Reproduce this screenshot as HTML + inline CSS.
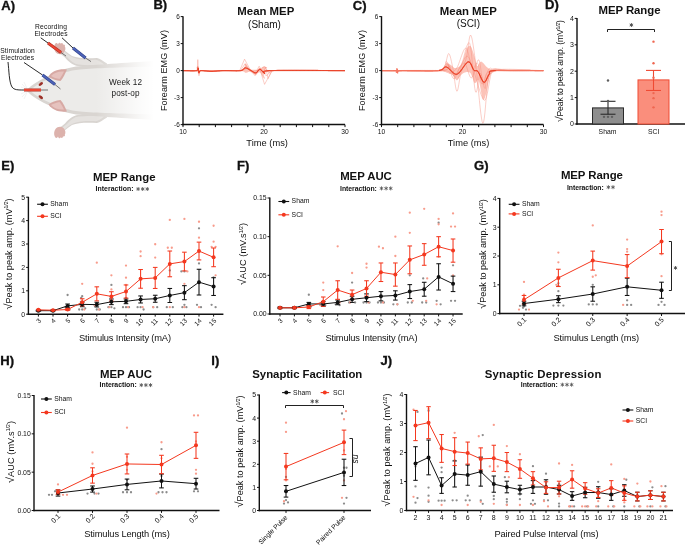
<!DOCTYPE html>
<html><head><meta charset="utf-8"><style>
html,body{margin:0;padding:0;background:#fff;width:685px;height:545px;overflow:hidden}
svg{display:block;will-change:transform}
text{font-family:"Liberation Sans",sans-serif}
</style></head><body>
<svg width="685" height="545" viewBox="0 0 685 545">
<rect width="685" height="545" fill="#fff"/>
<text transform="translate(1.2,10.1) scale(1.1,1)" font-size="11.9" font-weight="bold" fill="#111" stroke="#111" stroke-width="0.3">A)</text>
<text transform="translate(153.4,9.4) scale(1.1,1)" font-size="11.9" font-weight="bold" fill="#111" stroke="#111" stroke-width="0.3">B)</text>
<text transform="translate(352.8,9.5) scale(1.1,1)" font-size="11.9" font-weight="bold" fill="#111" stroke="#111" stroke-width="0.3">C)</text>
<text transform="translate(545,9.3) scale(1.1,1)" font-size="11.9" font-weight="bold" fill="#111" stroke="#111" stroke-width="0.3">D)</text>
<text transform="translate(1.2,169.5) scale(1.1,1)" font-size="11.9" font-weight="bold" fill="#111" stroke="#111" stroke-width="0.3">E)</text>
<text transform="translate(237,169.5) scale(1.1,1)" font-size="11.9" font-weight="bold" fill="#111" stroke="#111" stroke-width="0.3">F)</text>
<text transform="translate(474,170) scale(1.1,1)" font-size="11.9" font-weight="bold" fill="#111" stroke="#111" stroke-width="0.3">G)</text>
<text transform="translate(0.2,365) scale(1.1,1)" font-size="11.9" font-weight="bold" fill="#111" stroke="#111" stroke-width="0.3">H)</text>
<text transform="translate(211.3,365) scale(1.1,1)" font-size="11.9" font-weight="bold" fill="#111" stroke="#111" stroke-width="0.3">I)</text>
<text transform="translate(380.5,365) scale(1.1,1)" font-size="11.9" font-weight="bold" fill="#111" stroke="#111" stroke-width="0.3">J)</text>
<defs>
<linearGradient id="fadew" x1="0" y1="0" x2="1" y2="0"><stop offset="0" stop-color="#fff" stop-opacity="0"/><stop offset="0.75" stop-color="#fff" stop-opacity="0.8"/><stop offset="1" stop-color="#fff" stop-opacity="1"/></linearGradient>
</defs>
<path d="M60,45.5 C63,49 67,53 72,56 C78,58.5 88,58.5 97,58 C100,58.5 103,61 107,63.5 L107,67.5 C96,67 86,66.5 78,66 C73,65.5 69,62 65,57.5 C62,55 58,52 55,49 Z" fill="#d8d4d0"/>
<path d="M61,48 C64,51.5 68,55 73,57.5 C79,60 88,60 96,59.8 C99,60.5 101,62 104,64.5 L104,66 C95,65.5 86,65 78.5,64.5 C74,64 70.5,61 67,57 C64,54.5 60.5,52 58,50 Z" fill="#e5e2df"/>
<path d="M60,135.5 C63,132 67,128 72,125 C78,122.5 88,122.5 97,123 C100,122.5 103,120 107,117.5 L107,113.5 C96,114 86,114.5 78,115 C73,115.5 69,119 65,123.5 C62,126 58,129 55,132 Z" fill="#d8d4d0"/>
<path d="M61,133 C64,129.5 68,126 73,123.5 C79,121 88,121 96,121.2 C99,120.5 101,119 104,116.5 L104,115 C95,115.5 86,116 78.5,116.5 C74,117 70.5,120 67,124 C64,126.5 60.5,129 58,131 Z" fill="#e5e2df"/>
<path d="M55,44 C56,42.5 57.5,43 58,44.5 C58.5,42.5 60,42 60.8,43.8 C61.5,42.5 63,43 63,44.8 C64,44 65.5,45 64.8,46.5 C66,48 65.5,51 63.5,53 C61,55 57.5,54.5 55.5,52 C54,50 53.5,46.5 55,44 Z" fill="#dcb2ac"/>
<path d="M55,137 C56,138.5 57.5,138 58,136.5 C58.5,138.5 60,139 60.8,137.2 C61.5,138.5 63,138 63,136.2 C64,137 65.5,136 64.8,134.5 C66,133 65.5,130 63.5,128 C61,126 57.5,126.5 55.5,129 C54,131 53.5,134.5 55,137 Z" fill="#dcb2ac"/>
<path d="M26.5,90.5 C31,85 41,79 51,75 C59,71 66,68 76,66.5 C92,65 115,63.5 153,61 L153,120 C115,117.5 92,116 76,114.5 C66,113 59,110 51,106 C41,102 31,96 26.5,90.5 Z" fill="#d9d5d1"/>
<path d="M30,90.5 C35,85.5 44,80.5 53,77 C61,73.5 69,70.5 80,69.5 C96,68 118,67.5 153,66.5 L153,114.5 C118,113.5 96,113 80,111.5 C69,110.5 61,107.5 53,104 C44,100.5 35,95.5 30,90.5 Z" fill="#ecebe9"/>
<rect x="96" y="55" width="58" height="72" fill="url(#fadew)"/>
<path d="M48.5,76.5 C52,71 59,68.5 67,69.5 C65,74 63,78.5 60.5,81 C56,80.5 51.5,79 48.5,76.5 Z" fill="#d7a9a4"/>
<path d="M51,76 C54,72.5 59,71 64,71.5 C62.5,74.5 61,77.5 59.5,79 C56.5,78.5 53.5,77.5 51,76 Z" fill="#e6c2be"/>
<path d="M48.5,104.5 C52,110 59,112.5 67,111.5 C65,107 63,102.5 60.5,100 C56,100.5 51.5,102 48.5,104.5 Z" fill="#d7a9a4"/>
<path d="M51,105 C54,108.5 59,110 64,109.5 C62.5,106.5 61,103.5 59.5,102 C56.5,102.5 53.5,103.5 51,105 Z" fill="#e6c2be"/>
<ellipse cx="40.8" cy="84" rx="2.6" ry="1.4" fill="#9c3128" transform="rotate(-38 40.8 84)"/>
<ellipse cx="40.8" cy="97.2" rx="2.6" ry="1.4" fill="#9c3128" transform="rotate(38 40.8 97.2)"/>
<line x1="28.00" y1="90.50" x2="22.00" y2="84.00" stroke="#d8d8d8" stroke-width="0.35" />
<line x1="28.00" y1="90.50" x2="21.00" y2="87.00" stroke="#d8d8d8" stroke-width="0.35" />
<line x1="28.00" y1="90.50" x2="21.00" y2="94.00" stroke="#d8d8d8" stroke-width="0.35" />
<line x1="28.00" y1="90.50" x2="22.00" y2="97.00" stroke="#d8d8d8" stroke-width="0.35" />
<line x1="28.00" y1="90.50" x2="24.00" y2="82.00" stroke="#d8d8d8" stroke-width="0.35" />
<line x1="28.00" y1="90.50" x2="24.00" y2="99.00" stroke="#d8d8d8" stroke-width="0.35" />
<path d="M8,62 C9,70 9,82 12,87 C14,90 18,90 24,90" fill="none" stroke="#111" stroke-width="0.9"/>
<line x1="24.00" y1="62.50" x2="42.50" y2="75.00" stroke="#111" stroke-width="0.9" />
<line x1="40.70" y1="37.80" x2="48.00" y2="43.00" stroke="#111" stroke-width="0.9" />
<line x1="62.00" y1="37.80" x2="73.00" y2="48.00" stroke="#111" stroke-width="0.9" />
<line x1="24.00" y1="90.00" x2="41.00" y2="90.00" stroke="#b02a1c" stroke-width="3.0" />
<line x1="24.00" y1="90.00" x2="41.00" y2="90.00" stroke="#ec4634" stroke-width="2.0" />
<line x1="41.00" y1="90.00" x2="48.00" y2="90.00" stroke="#444" stroke-width="0.7" />
<line x1="42.50" y1="75.00" x2="55.00" y2="84.50" stroke="#2d3f86" stroke-width="3.0" />
<line x1="42.50" y1="75.00" x2="55.00" y2="84.50" stroke="#4d63b8" stroke-width="2.0" />
<line x1="55.00" y1="84.50" x2="60.50" y2="89.00" stroke="#444" stroke-width="0.7" />
<line x1="48.00" y1="43.00" x2="61.00" y2="52.50" stroke="#b02a1c" stroke-width="3.0" />
<line x1="48.00" y1="43.00" x2="61.00" y2="52.50" stroke="#ec4634" stroke-width="2.0" />
<line x1="61.00" y1="52.50" x2="66.00" y2="56.00" stroke="#444" stroke-width="0.7" />
<line x1="73.00" y1="48.00" x2="85.60" y2="58.00" stroke="#2d3f86" stroke-width="3.0" />
<line x1="73.00" y1="48.00" x2="85.60" y2="58.00" stroke="#4d63b8" stroke-width="2.0" />
<line x1="85.60" y1="58.00" x2="91.00" y2="61.60" stroke="#444" stroke-width="0.7" />
<text x="51.00" y="29.00" font-size="6.7" text-anchor="middle" fill="#111" textLength="32" lengthAdjust="spacing" >Recording</text>
<text x="51.00" y="36.00" font-size="6.7" text-anchor="middle" fill="#111" textLength="33" lengthAdjust="spacing" >Electrodes</text>
<text x="17.50" y="52.50" font-size="6.7" text-anchor="middle" fill="#111" textLength="34.5" lengthAdjust="spacing" >Stimulation</text>
<text x="17.50" y="60.00" font-size="6.7" text-anchor="middle" fill="#111" textLength="33" lengthAdjust="spacing" >Electrodes</text>
<text x="125.50" y="85.00" font-size="8.2" text-anchor="middle" fill="#1a1a1a" textLength="33" lengthAdjust="spacing" >Week 12</text>
<text x="125.50" y="96.00" font-size="8.2" text-anchor="middle" fill="#1a1a1a" textLength="28" lengthAdjust="spacing" >post-op</text>
<path d="M183.00,70.15 L183.51,70.16 L184.15,70.18 L184.91,70.21 L185.77,70.24 L186.71,70.29 L187.71,70.33 L188.75,70.37 L189.81,70.40 L190.87,70.43 L191.92,70.45 L192.93,70.45 L193.89,70.43 L194.77,70.40 L195.56,70.34 L196.23,70.26 L196.77,70.15 L198.14,67.87 L197.98,66.10 L196.36,67.87 L199.61,70.15 L200.05,70.19 L200.55,70.23 L201.08,70.27 L201.66,70.31 L202.27,70.35 L202.93,70.39 L203.61,70.42 L204.34,70.46 L205.09,70.49 L205.87,70.52 L206.68,70.56 L207.52,70.59 L208.38,70.61 L209.26,70.64 L210.16,70.67 L211.08,70.69 L212.02,70.71 L212.97,70.74 L213.94,70.76 L214.92,70.77 L215.90,70.79 L216.90,70.80 L217.90,70.81 L218.90,70.82 L219.90,70.83 L220.91,70.83 L221.91,70.84 L222.91,70.83 L223.90,70.83 L224.88,70.83 L225.86,70.82 L226.82,70.81 L227.78,70.80 L228.71,70.78 L229.63,70.76 L230.53,70.74 L231.41,70.71 L232.27,70.68 L233.10,70.65 L233.91,70.62 L234.69,70.58 L235.44,70.54 L236.16,70.49 L236.85,70.45 L237.49,70.39 L238.11,70.34 L238.68,70.28 L239.21,70.22 L239.70,70.15 L242.65,69.27 L244.17,67.93 L244.74,66.41 L244.81,64.97 L244.87,63.87 L245.37,63.40 L246.17,63.71 L246.87,64.63 L247.55,65.90 L248.28,67.27 L249.15,68.47 L250.23,69.25 L250.96,69.48 L251.79,69.64 L252.71,69.74 L253.68,69.79 L254.68,69.80 L255.70,69.76 L256.69,69.69 L257.64,69.60 L258.51,69.49 L259.29,69.37 L259.95,69.25 L261.48,68.42 L262.29,67.28 L263.19,66.55 L263.95,66.47 L264.75,66.56 L265.58,66.79 L266.42,67.10 L267.24,67.45 L266.94,67.92 L265.52,68.53 L264.65,69.18 L266.02,69.75 L271.29,70.15 L271.73,70.16 L272.20,70.18 L272.68,70.19 L273.20,70.20 L273.74,70.22 L274.30,70.23 L274.88,70.24 L275.48,70.25 L276.11,70.26 L276.75,70.27 L277.42,70.28 L278.10,70.28 L278.81,70.29 L279.53,70.30 L280.27,70.31 L281.03,70.31 L281.80,70.32 L282.59,70.32 L283.40,70.33 L284.22,70.33 L285.05,70.33 L285.90,70.34 L286.76,70.34 L287.64,70.34 L288.52,70.35 L289.42,70.35 L290.33,70.35 L291.25,70.35 L292.18,70.35 L293.12,70.35 L294.06,70.35 L295.02,70.35 L295.98,70.35 L296.95,70.35 L297.92,70.35 L298.90,70.35 L299.89,70.34 L300.88,70.34 L301.87,70.34 L302.87,70.34 L303.87,70.33 L304.88,70.33 L305.88,70.33 L306.89,70.32 L307.89,70.32 L308.90,70.32 L309.91,70.31 L310.91,70.31 L311.92,70.30 L312.92,70.30 L313.92,70.30 L314.91,70.29 L315.90,70.29 L316.89,70.28 L317.87,70.28 L318.85,70.27 L319.82,70.27 L320.78,70.26 L321.74,70.26 L322.68,70.25 L323.62,70.25 L324.55,70.24 L325.47,70.24 L326.38,70.23 L327.28,70.23 L328.17,70.22 L329.05,70.22 L329.91,70.21 L330.76,70.21 L331.60,70.21 L332.42,70.20 L333.23,70.20 L334.02,70.19 L334.79,70.19 L335.55,70.18 L336.30,70.18 L337.02,70.18 L337.73,70.17 L338.42,70.17 L339.09,70.17 L339.73,70.16 L340.36,70.16 L340.97,70.16 L341.56,70.16 L342.12,70.16 L342.66,70.15 L343.18,70.15 L343.67,70.15 L344.14,70.15 L344.58,70.15 L345.00,70.15 L345.00,71.05 L344.58,71.05 L344.14,71.05 L343.67,71.05 L343.18,71.04 L342.66,71.04 L342.12,71.03 L341.56,71.03 L340.98,71.02 L340.37,71.02 L339.75,71.01 L339.10,71.00 L338.44,70.99 L337.75,70.98 L337.05,70.97 L336.32,70.96 L335.59,70.95 L334.83,70.94 L334.06,70.93 L333.27,70.92 L332.46,70.91 L331.65,70.89 L330.81,70.88 L329.97,70.87 L329.11,70.85 L328.24,70.84 L327.35,70.83 L326.46,70.81 L325.55,70.80 L324.64,70.79 L323.71,70.77 L322.78,70.76 L321.83,70.74 L320.88,70.73 L319.92,70.72 L318.96,70.70 L317.99,70.69 L317.01,70.67 L316.03,70.66 L315.04,70.65 L314.05,70.64 L313.05,70.62 L312.06,70.61 L311.06,70.60 L310.05,70.59 L309.05,70.58 L308.05,70.57 L307.04,70.56 L306.04,70.55 L305.04,70.54 L304.04,70.53 L303.04,70.52 L302.04,70.51 L301.05,70.51 L300.06,70.50 L299.08,70.50 L298.10,70.49 L297.12,70.49 L296.16,70.49 L295.20,70.48 L294.24,70.48 L293.30,70.48 L292.36,70.48 L291.43,70.49 L290.51,70.49 L289.60,70.49 L288.70,70.50 L287.81,70.50 L286.94,70.51 L286.07,70.52 L285.22,70.53 L284.38,70.54 L283.56,70.55 L282.75,70.56 L281.95,70.58 L281.17,70.59 L280.41,70.61 L279.67,70.63 L278.94,70.65 L278.23,70.67 L277.53,70.69 L276.86,70.72 L276.21,70.74 L275.57,70.77 L274.96,70.80 L274.37,70.83 L273.80,70.86 L273.25,70.90 L272.72,70.93 L272.22,70.97 L271.74,71.01 L271.29,71.05 L266.82,71.86 L264.49,73.08 L263.72,74.53 L263.95,76.00 L264.58,77.31 L265.06,78.27 L264.81,78.70 L263.91,78.36 L263.07,77.32 L262.28,75.89 L261.51,74.38 L260.74,73.12 L259.95,72.40 L259.13,72.34 L258.30,72.72 L257.47,73.33 L256.65,73.98 L255.85,74.49 L255.09,74.65 L254.25,74.29 L253.49,73.56 L252.74,72.70 L251.94,71.93 L251.04,71.50 L250.19,71.50 L249.27,71.73 L248.31,72.09 L247.32,72.47 L246.33,72.76 L245.37,72.85 L244.82,72.71 L244.74,72.42 L244.66,72.03 L244.11,71.63 L242.61,71.28 L239.70,71.05 L239.22,71.03 L238.69,71.01 L238.12,71.00 L237.51,70.98 L236.87,70.96 L236.19,70.95 L235.48,70.93 L234.73,70.92 L233.96,70.90 L233.16,70.89 L232.33,70.88 L231.48,70.86 L230.61,70.85 L229.71,70.84 L228.80,70.83 L227.87,70.82 L226.93,70.81 L225.97,70.80 L225.00,70.79 L224.03,70.79 L223.04,70.78 L222.05,70.78 L221.06,70.77 L220.06,70.77 L219.07,70.77 L218.08,70.77 L217.09,70.77 L216.10,70.77 L215.13,70.77 L214.16,70.77 L213.20,70.77 L212.26,70.78 L211.33,70.79 L210.42,70.79 L209.53,70.80 L208.65,70.81 L207.80,70.82 L206.98,70.83 L206.18,70.85 L205.40,70.86 L204.66,70.88 L203.95,70.89 L203.27,70.91 L202.63,70.93 L202.02,70.95 L201.46,70.97 L200.93,71.00 L200.45,71.02 L200.01,71.05 L197.14,72.57 L198.96,73.75 L198.66,72.57 L196.77,71.05 L196.20,70.98 L195.51,70.92 L194.71,70.88 L193.82,70.86 L192.86,70.85 L191.85,70.85 L190.81,70.86 L189.75,70.88 L188.69,70.90 L187.66,70.93 L186.68,70.96 L185.75,70.99 L184.90,71.01 L184.14,71.03 L183.50,71.05 L183.00,71.05Z" fill="#fcc3b8" stroke="none"/>
<polyline points="183.00,70.60 197.18,70.60 197.82,59.62 198.39,70.60 198.96,75.73 199.85,70.60 211.35,71.50 223.50,70.60 239.70,70.60 244.56,59.17 250.72,70.60 255.09,75.73 259.46,67.90 264.57,84.37 272.10,70.60 345.00,70.60" fill="none" stroke="#f58a78" stroke-width="0.42" stroke-linejoin="round" />
<polyline points="183.00,70.60 197.18,70.60 197.82,66.10 198.55,70.60 199.04,73.75 200.01,70.60 240.51,70.60 244.96,63.85 250.23,71.50 255.09,73.75 259.14,66.19 263.19,72.40 265.62,67.45 268.05,78.70 272.10,70.60 345.00,70.60" fill="none" stroke="#f58a78" stroke-width="0.42" stroke-linejoin="round" />
<polyline points="183.00,70.60 197.42,70.60 198.07,67.90 199.20,72.85 200.41,70.60 241.32,70.60 246.18,66.55 251.85,70.60 255.90,74.65 259.95,68.80 264.81,66.73 268.86,73.30 272.10,70.60 345.00,70.60" fill="none" stroke="#f58a78" stroke-width="0.42" stroke-linejoin="round" />
<polyline points="183.00,70.60 242.13,70.60 246.99,68.35 252.66,71.50 260.76,69.70 266.43,76.00 271.29,70.60 345.00,70.60" fill="none" stroke="#f58a78" stroke-width="0.42" stroke-linejoin="round" />
<polyline points="183.00,70.60 183.38,70.60 183.85,70.61 184.40,70.62 185.01,70.64 185.68,70.66 186.41,70.68 187.17,70.70 187.97,70.72 188.78,70.74 189.62,70.76 190.46,70.78 191.29,70.79 192.11,70.80 192.91,70.80 193.69,70.80 194.42,70.79 195.10,70.77 195.73,70.74 196.29,70.71 196.77,70.66 197.18,70.60 198.41,68.94 197.98,67.90 198.43,70.35 198.96,72.85 199.06,71.99 200.41,70.60 200.84,70.57 201.32,70.56 201.86,70.57 202.45,70.60 203.09,70.65 203.77,70.72 204.48,70.79 205.21,70.86 205.97,70.94 206.74,71.02 207.52,71.10 208.31,71.17 209.09,71.23 209.86,71.28 210.62,71.31 211.35,71.32 211.99,71.31 212.62,71.30 213.25,71.27 213.88,71.24 214.50,71.20 215.13,71.16 215.76,71.11 216.40,71.06 217.05,71.00 217.70,70.95 218.37,70.89 219.04,70.84 219.74,70.79 220.45,70.74 221.18,70.69 221.93,70.66 222.70,70.62 223.50,70.60 224.08,70.59 224.68,70.58 225.31,70.58 225.97,70.59 226.65,70.60 227.34,70.61 228.05,70.62 228.77,70.64 229.50,70.65 230.24,70.67 230.98,70.69 231.72,70.71 232.46,70.72 233.19,70.74 233.92,70.75 234.63,70.76 235.33,70.77 236.01,70.78 236.68,70.78 237.31,70.77 237.93,70.76 238.51,70.74 239.07,70.72 239.59,70.69 240.07,70.65 240.51,70.60 241.83,70.31 242.76,69.87 243.40,69.35 243.87,68.82 244.28,68.36 244.74,68.03 245.37,67.90 246.05,67.98 246.75,68.21 247.47,68.54 248.20,68.94 248.94,69.38 249.66,69.83 250.36,70.25 251.04,70.60 251.78,71.00 252.51,71.45 253.22,71.90 253.92,72.32 254.59,72.65 255.26,72.84 255.90,72.85 256.61,72.50 257.28,71.80 257.92,70.94 258.57,70.10 259.24,69.47 259.95,69.25 260.59,69.49 261.26,70.05 261.93,70.80 262.63,71.64 263.34,72.41 264.07,73.01 264.81,73.30 265.01,73.27 264.56,73.04 263.85,72.66 263.29,72.20 263.28,71.71 264.20,71.24 266.47,70.85 270.48,70.60 270.84,70.59 271.22,70.58 271.61,70.57 272.01,70.56 272.44,70.55 272.87,70.54 273.33,70.53 273.79,70.52 274.27,70.51 274.77,70.50 275.27,70.49 275.79,70.49 276.33,70.48 276.87,70.47 277.43,70.47 278.00,70.46 278.58,70.45 279.17,70.45 279.78,70.44 280.39,70.44 281.02,70.43 281.65,70.43 282.30,70.43 282.96,70.42 283.62,70.42 284.29,70.42 284.98,70.41 285.67,70.41 286.37,70.41 287.07,70.41 287.79,70.41 288.51,70.40 289.24,70.40 289.97,70.40 290.72,70.40 291.47,70.40 292.22,70.40 292.98,70.40 293.75,70.40 294.52,70.40 295.29,70.40 296.07,70.40 296.85,70.40 297.64,70.40 298.43,70.40 299.23,70.41 300.02,70.41 300.82,70.41 301.63,70.41 302.43,70.41 303.24,70.42 304.04,70.42 304.85,70.42 305.66,70.42 306.47,70.43 307.28,70.43 308.09,70.43 308.91,70.43 309.72,70.44 310.52,70.44 311.33,70.44 312.14,70.45 312.95,70.45 313.75,70.45 314.55,70.46 315.35,70.46 316.14,70.47 316.94,70.47 317.73,70.47 318.51,70.48 319.29,70.48 320.07,70.48 320.84,70.49 321.61,70.49 322.37,70.50 323.13,70.50 323.88,70.50 324.63,70.51 325.37,70.51 326.10,70.52 326.82,70.52 327.54,70.52 328.25,70.53 328.96,70.53 329.65,70.53 330.34,70.54 331.02,70.54 331.69,70.55 332.35,70.55 333.00,70.55 333.64,70.56 334.27,70.56 334.89,70.56 335.50,70.57 336.10,70.57 336.68,70.57 337.26,70.57 337.82,70.58 338.37,70.58 338.91,70.58 339.44,70.58 339.95,70.59 340.45,70.59 340.94,70.59 341.41,70.59 341.87,70.59 342.32,70.60 342.75,70.60 343.16,70.60 343.56,70.60 343.95,70.60 344.31,70.60 344.66,70.60 345.00,70.60" fill="none" stroke="#f5735e" stroke-width="1.2" stroke-linejoin="round" />
<polyline points="183.00,70.60 183.38,70.60 183.85,70.61 184.40,70.62 185.01,70.64 185.68,70.66 186.41,70.68 187.17,70.70 187.97,70.72 188.78,70.74 189.62,70.76 190.46,70.78 191.29,70.79 192.11,70.80 192.91,70.80 193.69,70.80 194.42,70.79 195.10,70.77 195.73,70.74 196.29,70.71 196.77,70.66 197.18,70.60 198.41,68.94 197.98,67.90 198.43,70.35 198.96,72.85 199.06,71.99 200.41,70.60 200.84,70.57 201.32,70.56 201.86,70.57 202.45,70.60 203.09,70.65 203.77,70.72 204.48,70.79 205.21,70.86 205.97,70.94 206.74,71.02 207.52,71.10 208.31,71.17 209.09,71.23 209.86,71.28 210.62,71.31 211.35,71.32 211.99,71.31 212.62,71.30 213.25,71.27 213.88,71.24 214.50,71.20 215.13,71.16 215.76,71.11 216.40,71.06 217.05,71.00 217.70,70.95 218.37,70.89 219.04,70.84 219.74,70.79 220.45,70.74 221.18,70.69 221.93,70.66 222.70,70.62 223.50,70.60 224.08,70.59 224.68,70.58 225.31,70.58 225.97,70.59 226.65,70.60 227.34,70.61 228.05,70.62 228.77,70.64 229.50,70.65 230.24,70.67 230.98,70.69 231.72,70.71 232.46,70.72 233.19,70.74 233.92,70.75 234.63,70.76 235.33,70.77 236.01,70.78 236.68,70.78 237.31,70.77 237.93,70.76 238.51,70.74 239.07,70.72 239.59,70.69 240.07,70.65 240.51,70.60 241.83,70.31 242.76,69.87 243.40,69.35 243.87,68.82 244.28,68.36 244.74,68.03 245.37,67.90 246.05,67.98 246.75,68.21 247.47,68.54 248.20,68.94 248.94,69.38 249.66,69.83 250.36,70.25 251.04,70.60 251.78,71.00 252.51,71.45 253.22,71.90 253.92,72.32 254.59,72.65 255.26,72.84 255.90,72.85 256.61,72.50 257.28,71.80 257.92,70.94 258.57,70.10 259.24,69.47 259.95,69.25 260.59,69.49 261.26,70.05 261.93,70.80 262.63,71.64 263.34,72.41 264.07,73.01 264.81,73.30 265.01,73.27 264.56,73.04 263.85,72.66 263.29,72.20 263.28,71.71 264.20,71.24 266.47,70.85 270.48,70.60 270.84,70.59 271.22,70.58 271.61,70.57 272.01,70.56 272.44,70.55 272.87,70.54 273.33,70.53 273.79,70.52 274.27,70.51 274.77,70.50 275.27,70.49 275.79,70.49 276.33,70.48 276.87,70.47 277.43,70.47 278.00,70.46 278.58,70.45 279.17,70.45 279.78,70.44 280.39,70.44 281.02,70.43 281.65,70.43 282.30,70.43 282.96,70.42 283.62,70.42 284.29,70.42 284.98,70.41 285.67,70.41 286.37,70.41 287.07,70.41 287.79,70.41 288.51,70.40 289.24,70.40 289.97,70.40 290.72,70.40 291.47,70.40 292.22,70.40 292.98,70.40 293.75,70.40 294.52,70.40 295.29,70.40 296.07,70.40 296.85,70.40 297.64,70.40 298.43,70.40 299.23,70.41 300.02,70.41 300.82,70.41 301.63,70.41 302.43,70.41 303.24,70.42 304.04,70.42 304.85,70.42 305.66,70.42 306.47,70.43 307.28,70.43 308.09,70.43 308.91,70.43 309.72,70.44 310.52,70.44 311.33,70.44 312.14,70.45 312.95,70.45 313.75,70.45 314.55,70.46 315.35,70.46 316.14,70.47 316.94,70.47 317.73,70.47 318.51,70.48 319.29,70.48 320.07,70.48 320.84,70.49 321.61,70.49 322.37,70.50 323.13,70.50 323.88,70.50 324.63,70.51 325.37,70.51 326.10,70.52 326.82,70.52 327.54,70.52 328.25,70.53 328.96,70.53 329.65,70.53 330.34,70.54 331.02,70.54 331.69,70.55 332.35,70.55 333.00,70.55 333.64,70.56 334.27,70.56 334.89,70.56 335.50,70.57 336.10,70.57 336.68,70.57 337.26,70.57 337.82,70.58 338.37,70.58 338.91,70.58 339.44,70.58 339.95,70.59 340.45,70.59 340.94,70.59 341.41,70.59 341.87,70.59 342.32,70.60 342.75,70.60 343.16,70.60 343.56,70.60 343.95,70.60 344.31,70.60 344.66,70.60 345.00,70.60" fill="none" stroke="#e63419" stroke-width="0.95" stroke-linejoin="round" />
<line x1="183.00" y1="16.20" x2="183.00" y2="125.30" stroke="#111111" stroke-width="1.4" />
<line x1="180.70" y1="16.60" x2="183.00" y2="16.60" stroke="#111111" stroke-width="1" />
<text x="179.80" y="19.00" font-size="6.4" text-anchor="end" fill="#111111" >6</text>
<line x1="180.70" y1="43.60" x2="183.00" y2="43.60" stroke="#111111" stroke-width="1" />
<text x="179.80" y="46.00" font-size="6.4" text-anchor="end" fill="#111111" >3</text>
<line x1="180.70" y1="70.60" x2="183.00" y2="70.60" stroke="#111111" stroke-width="1" />
<text x="179.80" y="73.00" font-size="6.4" text-anchor="end" fill="#111111" >0</text>
<line x1="180.70" y1="97.60" x2="183.00" y2="97.60" stroke="#111111" stroke-width="1" />
<text x="179.80" y="100.00" font-size="6.4" text-anchor="end" fill="#111111" >-3</text>
<line x1="180.70" y1="124.60" x2="183.00" y2="124.60" stroke="#111111" stroke-width="1" />
<text x="179.80" y="127.00" font-size="6.4" text-anchor="end" fill="#111111" >-6</text>
<line x1="182.30" y1="124.60" x2="345.00" y2="124.60" stroke="#111111" stroke-width="1.5" />
<line x1="183.00" y1="124.60" x2="183.00" y2="127.10" stroke="#111111" stroke-width="1" />
<line x1="199.20" y1="124.60" x2="199.20" y2="127.10" stroke="#111111" stroke-width="1" />
<line x1="215.40" y1="124.60" x2="215.40" y2="127.10" stroke="#111111" stroke-width="1" />
<line x1="231.60" y1="124.60" x2="231.60" y2="127.10" stroke="#111111" stroke-width="1" />
<line x1="247.80" y1="124.60" x2="247.80" y2="127.10" stroke="#111111" stroke-width="1" />
<line x1="264.00" y1="124.60" x2="264.00" y2="127.10" stroke="#111111" stroke-width="1" />
<line x1="280.20" y1="124.60" x2="280.20" y2="127.10" stroke="#111111" stroke-width="1" />
<line x1="296.40" y1="124.60" x2="296.40" y2="127.10" stroke="#111111" stroke-width="1" />
<line x1="312.60" y1="124.60" x2="312.60" y2="127.10" stroke="#111111" stroke-width="1" />
<line x1="328.80" y1="124.60" x2="328.80" y2="127.10" stroke="#111111" stroke-width="1" />
<line x1="345.00" y1="124.60" x2="345.00" y2="127.10" stroke="#111111" stroke-width="1" />
<text x="183.00" y="134.10" font-size="6.7" text-anchor="middle" fill="#111111" >10</text>
<text x="264.00" y="134.10" font-size="6.7" text-anchor="middle" fill="#111111" >20</text>
<text x="345.00" y="134.10" font-size="6.7" text-anchor="middle" fill="#111111" >30</text>
<text x="166.70" y="70.60" font-size="9" text-anchor="middle" fill="#111111" textLength="81" lengthAdjust="spacing" transform="rotate(-90 166.70 70.60)" >Forearm EMG (mV)</text>
<text x="267.10" y="146.30" font-size="9.3" text-anchor="middle" fill="#111111" textLength="41.6" lengthAdjust="spacing" >Time (ms)</text>
<text x="265.80" y="14.60" font-size="11.4" text-anchor="middle" fill="#111111" font-weight="bold" textLength="57" lengthAdjust="spacing" >Mean MEP</text>
<text x="264.50" y="27.90" font-size="10" text-anchor="middle" fill="#111111" >(Sham)</text>
<path d="M381.50,69.88 L381.93,69.88 L382.39,69.88 L382.89,69.88 L383.41,69.88 L383.97,69.88 L384.56,69.88 L385.18,69.89 L385.83,69.89 L386.50,69.89 L387.20,69.89 L387.92,69.89 L388.67,69.89 L389.44,69.90 L390.24,69.90 L391.05,69.90 L391.89,69.90 L392.74,69.91 L393.61,69.91 L394.50,69.91 L395.40,69.91 L396.32,69.92 L397.25,69.92 L398.20,69.92 L399.15,69.92 L400.12,69.93 L401.10,69.93 L402.08,69.93 L403.08,69.93 L404.08,69.94 L405.08,69.94 L406.09,69.94 L407.11,69.94 L408.12,69.95 L409.14,69.95 L410.16,69.95 L411.18,69.95 L412.19,69.95 L413.21,69.95 L414.22,69.96 L415.22,69.96 L416.22,69.96 L417.22,69.96 L418.20,69.96 L419.18,69.96 L420.15,69.96 L421.11,69.96 L422.05,69.96 L422.98,69.96 L423.90,69.96 L424.81,69.96 L425.70,69.96 L426.57,69.95 L427.42,69.95 L428.26,69.95 L429.07,69.95 L429.86,69.94 L430.64,69.94 L431.39,69.94 L432.11,69.93 L432.81,69.93 L433.48,69.92 L434.13,69.92 L434.75,69.91 L435.34,69.91 L435.90,69.90 L436.43,69.89 L436.93,69.89 L437.39,69.88 L441.16,69.81 L442.82,69.76 L443.06,69.68 L442.58,69.52 L442.08,69.24 L442.25,68.80 L443.10,67.88 L443.89,66.61 L444.66,65.25 L445.45,64.09 L446.30,63.40 L447.08,63.27 L447.92,63.43 L448.78,63.79 L449.63,64.27 L450.43,64.76 L451.16,65.20 L452.33,66.17 L453.32,67.23 L454.40,67.90 L455.16,68.01 L455.96,67.97 L456.79,67.79 L457.63,67.47 L458.45,67.00 L459.26,66.47 L460.07,65.89 L460.88,65.12 L461.69,64.03 L462.50,62.50 L463.31,60.20 L464.12,57.23 L464.93,54.05 L465.74,51.15 L466.55,49.00 L467.36,47.55 L468.17,46.49 L468.98,45.89 L469.79,45.80 L470.60,46.30 L471.44,47.62 L472.30,49.73 L473.15,52.26 L473.94,54.84 L474.65,57.10 L475.52,60.73 L476.21,64.17 L477.08,66.10 L477.76,65.91 L478.51,64.80 L479.32,63.34 L480.19,62.08 L481.13,61.60 L481.99,61.96 L482.93,62.77 L483.91,63.85 L484.91,65.03 L485.88,66.14 L486.80,67.00 L487.66,67.64 L488.48,68.19 L489.28,68.68 L490.07,69.09 L490.86,69.43 L491.66,69.70 L491.96,69.90 L491.58,69.96 L491.54,69.94 L492.85,69.90 L496.52,69.88 L496.99,69.88 L497.49,69.88 L498.03,69.88 L498.61,69.89 L499.21,69.89 L499.85,69.89 L500.53,69.89 L501.23,69.89 L501.96,69.89 L502.71,69.89 L503.49,69.89 L504.30,69.89 L505.12,69.89 L505.97,69.89 L506.84,69.89 L507.73,69.89 L508.63,69.89 L509.55,69.89 L510.49,69.89 L511.43,69.89 L512.39,69.89 L513.36,69.89 L514.34,69.89 L515.32,69.89 L516.31,69.89 L517.31,69.89 L518.31,69.89 L519.31,69.89 L520.31,69.89 L521.32,69.89 L522.31,69.89 L523.31,69.89 L524.30,69.89 L525.29,69.89 L526.26,69.89 L527.23,69.89 L528.19,69.89 L529.14,69.89 L530.07,69.89 L530.99,69.89 L531.89,69.89 L532.78,69.88 L533.64,69.88 L534.49,69.88 L535.32,69.88 L536.12,69.88 L536.90,69.88 L537.66,69.88 L538.38,69.88 L539.08,69.88 L539.75,69.88 L540.39,69.88 L541.00,69.88 L541.57,69.88 L542.11,69.88 L542.61,69.88 L543.08,69.88 L543.50,69.88 L543.50,71.32 L543.07,71.32 L542.59,71.32 L542.07,71.32 L541.52,71.32 L540.93,71.32 L540.30,71.32 L539.64,71.32 L538.94,71.32 L538.22,71.32 L537.46,71.32 L536.68,71.32 L535.87,71.32 L535.04,71.32 L534.18,71.32 L533.30,71.32 L532.40,71.31 L531.48,71.31 L530.54,71.31 L529.59,71.31 L528.62,71.31 L527.65,71.31 L526.66,71.31 L525.66,71.31 L524.65,71.31 L523.63,71.31 L522.61,71.31 L521.59,71.31 L520.57,71.31 L519.54,71.31 L518.52,71.31 L517.50,71.31 L516.48,71.31 L515.47,71.31 L514.46,71.31 L513.47,71.31 L512.48,71.31 L511.51,71.31 L510.55,71.31 L509.61,71.31 L508.68,71.31 L507.77,71.31 L506.88,71.31 L506.01,71.31 L505.16,71.31 L504.34,71.31 L503.54,71.31 L502.77,71.31 L502.03,71.31 L501.32,71.31 L500.65,71.31 L500.00,71.31 L499.39,71.31 L498.82,71.32 L498.28,71.32 L497.78,71.32 L497.33,71.32 L493.37,71.21 L494.27,71.11 L494.90,71.50 L494.22,71.84 L493.43,72.18 L492.57,72.64 L491.69,73.34 L490.83,74.42 L490.04,76.00 L489.17,78.94 L488.32,82.83 L487.51,87.06 L486.74,90.99 L485.99,94.00 L484.88,97.63 L483.86,99.87 L482.75,99.40 L481.99,96.83 L481.19,92.55 L480.36,87.67 L479.52,83.29 L478.70,80.50 L477.89,79.86 L477.08,80.63 L476.27,81.99 L475.46,83.12 L474.65,83.20 L473.87,81.88 L473.11,79.72 L472.34,77.22 L471.51,74.91 L470.60,73.30 L469.73,72.59 L468.77,72.20 L467.76,72.06 L466.76,72.10 L465.80,72.24 L464.93,72.40 L464.02,72.68 L463.19,73.13 L462.42,73.72 L461.66,74.39 L460.88,75.10 L460.07,76.03 L459.26,77.20 L458.45,78.36 L457.64,79.25 L456.83,79.60 L456.06,79.25 L455.33,78.36 L454.57,77.20 L453.75,76.03 L452.78,75.10 L452.07,74.66 L451.27,74.26 L450.42,73.88 L449.54,73.52 L448.66,73.20 L447.81,72.91 L447.01,72.64 L446.30,72.40 L445.35,72.09 L444.54,71.88 L443.81,71.72 L443.07,71.61 L442.25,71.50 L442.08,71.43 L442.58,71.38 L443.06,71.35 L442.82,71.34 L441.16,71.33 L437.39,71.32 L436.93,71.32 L436.43,71.32 L435.90,71.32 L435.34,71.32 L434.75,71.31 L434.13,71.31 L433.48,71.31 L432.81,71.31 L432.11,71.31 L431.39,71.31 L430.64,71.31 L429.86,71.31 L429.07,71.31 L428.26,71.31 L427.42,71.31 L426.57,71.31 L425.70,71.31 L424.81,71.31 L423.90,71.31 L422.98,71.31 L422.05,71.31 L421.11,71.31 L420.15,71.31 L419.18,71.31 L418.20,71.31 L417.22,71.31 L416.22,71.31 L415.22,71.31 L414.22,71.31 L413.21,71.31 L412.19,71.31 L411.18,71.31 L410.16,71.31 L409.14,71.31 L408.12,71.31 L407.11,71.31 L406.09,71.31 L405.08,71.31 L404.08,71.31 L403.08,71.31 L402.08,71.31 L401.10,71.31 L400.12,71.31 L399.15,71.31 L398.20,71.31 L397.25,71.31 L396.32,71.31 L395.40,71.31 L394.50,71.31 L393.61,71.32 L392.74,71.32 L391.89,71.32 L391.05,71.32 L390.24,71.32 L389.44,71.32 L388.67,71.32 L387.92,71.32 L387.20,71.32 L386.50,71.32 L385.83,71.32 L385.18,71.32 L384.56,71.32 L383.97,71.32 L383.41,71.32 L382.89,71.32 L382.39,71.32 L381.93,71.32 L381.50,71.32Z" fill="#fcc3b8" stroke="none"/>
<polyline points="381.50,70.60 381.87,70.60 382.33,70.61 382.86,70.62 383.45,70.63 384.10,70.64 384.80,70.66 385.54,70.68 386.31,70.69 387.10,70.71 387.92,70.73 388.74,70.74 389.56,70.75 390.38,70.76 391.18,70.77 391.96,70.77 392.70,70.76 393.41,70.75 394.07,70.74 394.68,70.71 395.22,70.68 395.69,70.65 396.08,70.60 397.35,69.17 396.89,68.35 397.24,70.85 397.70,73.30 396.13,72.26 399.32,70.60 399.67,70.58 400.05,70.56 400.46,70.54 400.90,70.53 401.36,70.52 401.84,70.51 402.35,70.50 402.89,70.50 403.44,70.50 404.02,70.50 404.61,70.50 405.23,70.50 405.86,70.50 406.51,70.51 407.18,70.52 407.86,70.52 408.56,70.53 409.27,70.54 409.99,70.55 410.72,70.57 411.46,70.58 412.22,70.59 412.98,70.61 413.74,70.62 414.52,70.64 415.30,70.65 416.08,70.67 416.87,70.68 417.66,70.70 418.46,70.71 419.25,70.73 420.04,70.74 420.83,70.76 421.62,70.77 422.41,70.78 423.19,70.79 423.97,70.81 424.74,70.82 425.50,70.83 426.26,70.83 427.01,70.84 427.74,70.85 428.47,70.85 429.18,70.85 429.88,70.85 430.57,70.85 431.24,70.85 431.90,70.84 432.54,70.84 433.16,70.83 433.77,70.82 434.35,70.80 434.91,70.79 435.46,70.77 435.98,70.75 436.47,70.73 436.94,70.70 437.39,70.67 437.81,70.64 438.20,70.60 440.17,70.37 441.61,70.12 442.60,69.84 443.24,69.51 443.62,69.14 443.82,68.70 443.94,68.19 444.06,67.59 444.28,66.90 444.68,66.10 445.50,64.16 446.21,61.50 446.86,58.62 447.47,56.00 448.08,54.13 448.73,53.50 449.40,54.23 450.08,55.97 450.75,58.45 451.43,61.43 452.11,64.67 452.78,67.90 453.45,71.76 454.13,76.57 454.81,81.62 455.48,86.23 456.16,89.69 456.83,91.30 457.49,90.67 458.12,88.30 458.75,84.77 459.41,80.70 460.11,76.67 460.88,73.30 461.52,71.23 462.22,69.26 462.96,67.35 463.72,65.45 464.47,63.52 465.21,61.52 465.91,59.39 466.55,57.10 467.31,53.20 467.99,48.38 468.63,43.40 469.25,39.02 469.90,35.98 470.60,35.05 471.23,35.99 471.86,38.07 472.50,41.19 473.16,45.22 473.87,50.04 474.63,55.54 475.46,61.60 476.04,66.29 476.66,72.12 477.32,78.78 478.00,85.94 478.70,93.28 479.41,100.49 480.12,107.24 480.81,113.21 481.49,118.08 482.14,121.54 482.75,123.25 483.53,122.44 484.26,118.54 484.96,112.41 485.64,104.88 486.31,96.81 486.98,89.05 487.68,82.43 488.42,77.80 489.03,75.44 489.64,73.65 490.25,72.34 490.88,71.44 491.51,70.85 492.15,70.50 492.81,70.29 493.49,70.15 494.18,69.98 494.90,69.70 495.42,69.46 495.78,69.34 496.05,69.31 496.28,69.37 496.52,69.48 496.82,69.64 497.25,69.83 497.84,70.03 498.66,70.23 499.76,70.40 501.19,70.53 503.00,70.60 503.41,70.61 503.84,70.61 504.29,70.62 504.78,70.63 505.28,70.63 505.81,70.64 506.36,70.64 506.93,70.64 507.53,70.65 508.14,70.65 508.77,70.65 509.41,70.66 510.07,70.66 510.75,70.66 511.44,70.66 512.15,70.66 512.87,70.66 513.60,70.67 514.34,70.67 515.09,70.67 515.85,70.67 516.62,70.67 517.40,70.67 518.18,70.67 518.97,70.66 519.76,70.66 520.56,70.66 521.36,70.66 522.15,70.66 522.96,70.66 523.76,70.66 524.56,70.65 525.35,70.65 526.15,70.65 526.94,70.65 527.72,70.65 528.51,70.64 529.28,70.64 530.05,70.64 530.80,70.64 531.55,70.63 532.29,70.63 533.02,70.63 533.73,70.63 534.44,70.62 535.12,70.62 535.80,70.62 536.46,70.62 537.10,70.62 537.72,70.61 538.33,70.61 538.91,70.61 539.48,70.61 540.02,70.61 540.54,70.61 541.04,70.60 541.52,70.60 541.97,70.60 542.39,70.60 542.79,70.60 543.16,70.60 543.50,70.60" fill="none" stroke="#f58a78" stroke-width="0.42" stroke-linejoin="round" />
<polyline points="381.50,70.60 381.84,70.60 382.20,70.60 382.58,70.60 382.98,70.61 383.39,70.61 383.83,70.62 384.29,70.63 384.76,70.63 385.25,70.64 385.76,70.65 386.29,70.66 386.83,70.67 387.38,70.68 387.96,70.69 388.54,70.71 389.14,70.72 389.76,70.73 390.39,70.75 391.03,70.76 391.68,70.78 392.35,70.79 393.02,70.81 393.71,70.82 394.41,70.84 395.12,70.86 395.83,70.87 396.56,70.89 397.30,70.91 398.04,70.92 398.79,70.94 399.55,70.96 400.31,70.97 401.09,70.99 401.86,71.01 402.65,71.02 403.43,71.04 404.22,71.05 405.02,71.07 405.82,71.09 406.62,71.10 407.43,71.12 408.23,71.13 409.04,71.14 409.85,71.16 410.66,71.17 411.47,71.18 412.28,71.19 413.09,71.20 413.90,71.21 414.70,71.22 415.51,71.23 416.31,71.24 417.11,71.25 417.90,71.25 418.69,71.26 419.48,71.26 420.26,71.26 421.04,71.27 421.80,71.27 422.57,71.27 423.32,71.27 424.07,71.26 424.82,71.26 425.55,71.25 426.27,71.25 426.99,71.24 427.69,71.23 428.39,71.22 429.07,71.21 429.75,71.19 430.41,71.18 431.06,71.16 431.70,71.14 432.32,71.12 432.93,71.10 433.53,71.08 434.11,71.05 434.68,71.03 435.24,71.00 435.77,70.97 436.29,70.94 436.80,70.90 437.28,70.86 437.75,70.83 438.21,70.78 438.64,70.74 439.05,70.70 439.45,70.65 439.82,70.60 442.57,69.98 444.45,69.06 445.60,67.94 446.18,66.70 446.35,65.42 446.25,64.21 446.05,63.13 445.89,62.28 445.92,61.74 446.30,61.60 447.05,62.03 447.77,62.99 448.49,64.36 449.19,65.99 449.88,67.74 450.57,69.49 451.27,71.09 451.97,72.40 452.68,73.64 453.41,75.04 454.13,76.47 454.86,77.80 455.57,78.90 456.28,79.66 456.97,79.93 457.64,79.60 458.36,78.35 459.02,76.29 459.65,73.65 460.29,70.64 460.96,67.48 461.69,64.39 462.50,61.60 463.08,59.72 463.70,57.43 464.36,54.90 465.04,52.27 465.74,49.69 466.45,47.31 467.16,45.27 467.85,43.74 468.53,42.85 469.18,42.75 469.79,43.60 470.58,46.91 471.34,52.55 472.07,59.74 472.78,67.70 473.46,75.66 474.14,82.84 474.80,88.47 475.46,91.75 476.20,92.31 476.91,90.35 477.60,86.73 478.28,82.34 478.96,78.05 479.63,74.75 480.32,73.30 481.01,74.01 481.68,76.18 482.36,79.24 483.04,82.60 483.73,85.67 484.44,87.87 485.18,88.60 485.53,87.82 485.44,86.02 485.18,83.50 485.03,80.56 485.25,77.50 486.11,74.61 487.89,72.22 490.85,70.60 491.22,70.49 491.61,70.39 492.03,70.29 492.46,70.20 492.92,70.11 493.39,70.03 493.89,69.95 494.40,69.88 494.93,69.81 495.47,69.75 496.04,69.69 496.62,69.63 497.21,69.58 497.82,69.54 498.45,69.49 499.09,69.46 499.74,69.42 500.40,69.39 501.08,69.36 501.77,69.34 502.47,69.32 503.18,69.30 503.90,69.29 504.63,69.28 505.37,69.27 506.12,69.27 506.87,69.27 507.63,69.27 508.40,69.27 509.17,69.28 509.95,69.29 510.74,69.30 511.53,69.31 512.32,69.33 513.12,69.35 513.92,69.37 514.72,69.39 515.52,69.41 516.32,69.43 517.13,69.46 517.93,69.49 518.73,69.52 519.54,69.55 520.34,69.58 521.13,69.61 521.93,69.65 522.72,69.68 523.51,69.71 524.29,69.75 525.07,69.79 525.84,69.82 526.60,69.86 527.36,69.90 528.11,69.93 528.85,69.97 529.59,70.01 530.31,70.04 531.03,70.08 531.73,70.12 532.43,70.15 533.11,70.19 533.78,70.22 534.44,70.25 535.08,70.29 535.71,70.32 536.33,70.35 536.93,70.38 537.52,70.41 538.09,70.43 538.65,70.46 539.18,70.48 539.70,70.50 540.21,70.52 540.69,70.54 541.15,70.55 541.60,70.57 542.02,70.58 542.42,70.59 542.80,70.59 543.16,70.60 543.50,70.60" fill="none" stroke="#f58a78" stroke-width="0.42" stroke-linejoin="round" />
<polyline points="381.50,70.60 381.84,70.60 382.19,70.60 382.57,70.60 382.96,70.60 383.38,70.61 383.81,70.61 384.26,70.61 384.73,70.62 385.21,70.62 385.71,70.63 386.23,70.63 386.76,70.64 387.31,70.65 387.87,70.65 388.44,70.66 389.03,70.67 389.64,70.67 390.25,70.68 390.88,70.69 391.52,70.70 392.18,70.71 392.84,70.72 393.52,70.72 394.20,70.73 394.90,70.74 395.60,70.75 396.32,70.76 397.04,70.77 397.77,70.78 398.51,70.79 399.26,70.80 400.01,70.81 400.77,70.82 401.54,70.83 402.31,70.84 403.09,70.85 403.87,70.86 404.66,70.87 405.45,70.88 406.25,70.88 407.04,70.89 407.85,70.90 408.65,70.91 409.45,70.92 410.26,70.93 411.07,70.93 411.87,70.94 412.68,70.95 413.49,70.95 414.30,70.96 415.10,70.97 415.91,70.97 416.71,70.98 417.51,70.98 418.31,70.99 419.10,70.99 419.89,70.99 420.68,71.00 421.46,71.00 422.23,71.00 423.00,71.00 423.77,71.00 424.53,71.00 425.28,71.00 426.03,71.00 426.76,70.99 427.49,70.99 428.21,70.99 428.93,70.98 429.63,70.98 430.32,70.97 431.01,70.97 431.68,70.96 432.34,70.95 432.99,70.94 433.63,70.93 434.25,70.92 434.87,70.91 435.47,70.89 436.05,70.88 436.63,70.86 437.19,70.85 437.73,70.83 438.26,70.81 438.77,70.79 439.26,70.77 439.74,70.75 440.21,70.73 440.65,70.71 441.08,70.68 441.49,70.66 441.88,70.63 442.25,70.60 445.10,70.21 447.03,69.61 448.21,68.87 448.79,68.05 448.93,67.22 448.80,66.45 448.56,65.80 448.35,65.33 448.36,65.11 448.73,65.20 449.47,65.92 450.19,67.27 450.88,69.01 451.56,70.94 452.25,72.82 452.94,74.44 453.66,75.57 454.40,76.00 455.02,75.79 455.64,75.19 456.28,74.29 456.93,73.15 457.59,71.84 458.25,70.43 458.91,68.99 459.57,67.59 460.23,66.30 460.88,65.20 461.53,64.13 462.19,62.94 462.85,61.69 463.51,60.43 464.17,59.24 464.83,58.16 465.48,57.26 466.12,56.59 466.74,56.22 467.36,56.20 468.07,56.61 468.70,57.39 469.30,58.51 469.89,59.97 470.52,61.74 471.23,63.81 472.06,66.17 473.03,68.80 473.56,70.26 474.13,72.00 474.74,73.99 475.39,76.17 476.07,78.49 476.78,80.92 477.50,83.39 478.23,85.86 478.97,88.29 479.71,90.62 480.44,92.81 481.16,94.81 481.86,96.57 482.54,98.05 483.19,99.20 483.80,99.96 484.37,100.30 485.18,99.90 485.94,98.50 486.65,96.29 487.32,93.47 487.96,90.21 488.57,86.72 489.18,83.19 489.78,79.80 490.39,76.74 491.01,74.21 491.66,72.40 492.32,71.19 492.97,70.33 493.63,69.75 494.28,69.41 494.93,69.27 495.58,69.26 496.24,69.36 496.90,69.50 497.58,69.63 498.26,69.72 498.95,69.70 499.51,69.65 499.92,69.65 500.25,69.69 500.54,69.77 500.83,69.87 501.18,69.98 501.62,70.11 502.22,70.23 503.01,70.35 504.05,70.46 505.38,70.55 507.05,70.60 507.46,70.61 507.90,70.61 508.37,70.62 508.87,70.63 509.39,70.63 509.93,70.64 510.50,70.64 511.09,70.65 511.70,70.65 512.33,70.65 512.98,70.66 513.64,70.66 514.33,70.66 515.02,70.66 515.74,70.66 516.46,70.67 517.20,70.67 517.95,70.67 518.70,70.67 519.47,70.67 520.24,70.67 521.02,70.67 521.81,70.66 522.60,70.66 523.39,70.66 524.19,70.66 524.99,70.66 525.78,70.66 526.58,70.65 527.37,70.65 528.16,70.65 528.94,70.65 529.72,70.64 530.49,70.64 531.26,70.64 532.01,70.64 532.75,70.63 533.49,70.63 534.21,70.63 534.92,70.63 535.61,70.62 536.29,70.62 536.95,70.62 537.59,70.62 538.21,70.61 538.82,70.61 539.40,70.61 539.96,70.61 540.49,70.61 541.01,70.60 541.49,70.60 541.95,70.60 542.38,70.60 542.79,70.60 543.16,70.60 543.50,70.60" fill="none" stroke="#f58a78" stroke-width="0.42" stroke-linejoin="round" />
<polyline points="381.50,70.60 381.83,70.60 382.19,70.60 382.56,70.60 382.95,70.60 383.36,70.60 383.78,70.59 384.23,70.59 384.69,70.59 385.17,70.59 385.66,70.59 386.17,70.58 386.69,70.58 387.23,70.58 387.78,70.58 388.35,70.57 388.93,70.57 389.53,70.56 390.13,70.56 390.75,70.56 391.38,70.55 392.03,70.55 392.68,70.54 393.35,70.54 394.02,70.54 394.71,70.53 395.40,70.53 396.11,70.52 396.82,70.52 397.54,70.51 398.27,70.51 399.01,70.50 399.75,70.50 400.50,70.49 401.26,70.49 402.02,70.48 402.79,70.48 403.56,70.47 404.34,70.47 405.12,70.47 405.90,70.46 406.69,70.46 407.48,70.45 408.28,70.45 409.07,70.44 409.87,70.44 410.67,70.44 411.47,70.43 412.28,70.43 413.08,70.43 413.88,70.42 414.68,70.42 415.48,70.42 416.28,70.41 417.07,70.41 417.87,70.41 418.66,70.41 419.45,70.41 420.23,70.40 421.01,70.40 421.79,70.40 422.56,70.40 423.33,70.40 424.09,70.40 424.84,70.40 425.59,70.40 426.33,70.40 427.07,70.40 427.79,70.40 428.51,70.41 429.22,70.41 429.93,70.41 430.62,70.41 431.30,70.42 431.97,70.42 432.64,70.42 433.29,70.43 433.93,70.43 434.56,70.44 435.17,70.44 435.78,70.45 436.37,70.46 436.95,70.46 437.51,70.47 438.06,70.48 438.60,70.49 439.12,70.50 439.62,70.50 440.11,70.51 440.58,70.53 441.04,70.54 441.48,70.55 441.90,70.56 442.31,70.57 442.69,70.59 443.06,70.60 446.19,70.83 448.19,71.17 449.27,71.60 449.67,72.06 449.63,72.51 449.36,72.90 449.10,73.19 449.09,73.34 449.54,73.30 450.17,73.17 450.79,73.01 451.43,72.80 452.06,72.54 452.71,72.20 453.36,71.78 454.03,71.26 454.70,70.63 455.40,69.87 456.10,68.96 456.83,67.90 457.47,66.74 458.14,65.25 458.83,63.50 459.53,61.57 460.25,59.53 460.97,57.45 461.70,55.41 462.42,53.49 463.12,51.74 463.82,50.26 464.49,49.11 465.13,48.36 465.74,48.10 466.49,48.59 467.20,49.91 467.89,51.89 468.55,54.34 469.18,57.04 469.80,59.83 470.41,62.50 471.01,64.86 471.62,66.73 472.22,67.90 472.98,68.33 473.73,67.89 474.48,66.88 475.21,65.59 475.92,64.31 476.61,63.32 477.26,62.92 477.89,63.40 478.62,65.81 479.24,69.77 479.81,74.42 480.41,78.93 481.10,82.44 481.94,84.10 482.47,84.00 483.05,83.28 483.65,82.06 484.28,80.47 484.94,78.62 485.62,76.63 486.32,74.62 487.04,72.71 487.76,71.03 488.49,69.68 489.23,68.80 489.76,68.38 490.15,68.15 490.43,68.08 490.66,68.15 490.88,68.33 491.14,68.59 491.50,68.91 491.98,69.26 492.66,69.62 493.56,69.96 494.75,70.25 496.26,70.47 498.14,70.60 498.54,70.61 498.96,70.62 499.41,70.64 499.88,70.65 500.36,70.66 500.87,70.66 501.40,70.67 501.95,70.68 502.52,70.69 503.10,70.69 503.71,70.70 504.32,70.71 504.96,70.71 505.60,70.72 506.27,70.72 506.94,70.72 507.63,70.73 508.33,70.73 509.04,70.73 509.77,70.73 510.50,70.73 511.24,70.73 511.99,70.73 512.75,70.73 513.51,70.73 514.28,70.73 515.06,70.73 515.84,70.73 516.62,70.73 517.41,70.73 518.20,70.72 518.99,70.72 519.79,70.72 520.58,70.72 521.38,70.71 522.17,70.71 522.96,70.71 523.75,70.70 524.54,70.70 525.32,70.69 526.10,70.69 526.87,70.69 527.64,70.68 528.40,70.68 529.15,70.67 529.90,70.67 530.63,70.67 531.36,70.66 532.08,70.66 532.78,70.65 533.48,70.65 534.16,70.64 534.83,70.64 535.48,70.64 536.12,70.63 536.75,70.63 537.36,70.63 537.95,70.62 538.52,70.62 539.08,70.62 539.62,70.61 540.14,70.61 540.64,70.61 541.11,70.61 541.57,70.60 542.00,70.60 542.41,70.60 542.80,70.60 543.16,70.60 543.50,70.60" fill="none" stroke="#f58a78" stroke-width="0.42" stroke-linejoin="round" />
<polyline points="381.50,70.60 381.84,70.60 382.19,70.60 382.57,70.60 382.97,70.61 383.38,70.61 383.81,70.61 384.26,70.62 384.73,70.62 385.22,70.63 385.72,70.64 386.24,70.64 386.77,70.65 387.32,70.66 387.88,70.67 388.46,70.68 389.05,70.69 389.66,70.70 390.28,70.71 390.91,70.72 391.55,70.73 392.21,70.74 392.88,70.75 393.55,70.77 394.24,70.78 394.94,70.79 395.65,70.80 396.37,70.82 397.09,70.83 397.83,70.84 398.57,70.85 399.32,70.87 400.08,70.88 400.84,70.89 401.61,70.91 402.39,70.92 403.17,70.93 403.95,70.94 404.74,70.96 405.53,70.97 406.33,70.98 407.13,70.99 407.94,71.00 408.74,71.01 409.55,71.02 410.36,71.04 411.17,71.05 411.98,71.05 412.79,71.06 413.60,71.07 414.40,71.08 415.21,71.09 416.02,71.10 416.82,71.10 417.62,71.11 418.42,71.11 419.22,71.12 420.01,71.12 420.79,71.13 421.58,71.13 422.35,71.13 423.12,71.13 423.89,71.13 424.65,71.13 425.40,71.13 426.15,71.13 426.88,71.13 427.61,71.12 428.33,71.12 429.04,71.11 429.74,71.10 430.43,71.10 431.12,71.09 431.79,71.08 432.44,71.07 433.09,71.05 433.73,71.04 434.35,71.02 434.96,71.01 435.56,70.99 436.14,70.97 436.71,70.95 437.26,70.93 437.80,70.91 438.32,70.88 438.83,70.86 439.32,70.83 439.79,70.80 440.25,70.77 440.68,70.74 441.10,70.71 441.51,70.67 441.89,70.64 442.25,70.60 445.86,69.75 447.66,68.41 448.16,66.84 447.85,65.29 447.23,64.03 446.82,63.31 447.11,63.40 447.76,64.25 448.46,65.77 449.18,67.77 449.92,70.04 450.68,72.39 451.43,74.63 452.17,76.56 452.90,77.98 453.59,78.70 454.34,78.64 455.06,77.89 455.78,76.64 456.48,75.04 457.17,73.29 457.86,71.55 458.56,69.99 459.26,68.80 459.96,67.77 460.66,66.67 461.35,65.58 462.04,64.58 462.74,63.78 463.46,63.25 464.18,63.10 464.93,63.40 465.54,64.18 466.16,65.53 466.79,67.29 467.42,69.29 468.07,71.39 468.72,73.42 469.38,75.24 470.05,76.68 470.73,77.58 471.41,77.80 472.05,77.22 472.72,75.93 473.41,74.08 474.10,71.86 474.81,69.43 475.51,66.95 476.19,64.59 476.87,62.53 477.51,60.94 478.13,59.97 478.70,59.80 479.50,61.39 480.19,64.79 480.83,69.29 481.43,74.17 482.07,78.74 482.76,82.29 483.56,84.10 484.11,84.19 484.67,83.64 485.24,82.57 485.83,81.11 486.44,79.36 487.07,77.45 487.74,75.50 488.45,73.64 489.20,71.97 490.00,70.61 490.85,69.70 491.41,69.34 492.01,69.06 492.64,68.86 493.30,68.71 493.99,68.63 494.69,68.60 495.41,68.61 496.14,68.66 496.87,68.74 497.61,68.85 498.34,68.97 499.07,69.10 499.78,69.23 500.48,69.36 501.15,69.48 501.80,69.58 502.42,69.66 503.00,69.70 503.74,69.75 504.30,69.81 504.74,69.88 505.10,69.97 505.43,70.06 505.78,70.15 506.21,70.24 506.75,70.33 507.46,70.42 508.39,70.49 509.59,70.55 511.10,70.60 511.52,70.61 511.97,70.62 512.45,70.62 512.96,70.63 513.50,70.64 514.06,70.64 514.65,70.65 515.26,70.65 515.89,70.65 516.54,70.66 517.21,70.66 517.90,70.66 518.60,70.66 519.32,70.67 520.05,70.67 520.80,70.67 521.55,70.67 522.32,70.67 523.09,70.67 523.87,70.66 524.65,70.66 525.44,70.66 526.23,70.66 527.02,70.66 527.81,70.66 528.59,70.65 529.38,70.65 530.16,70.65 530.94,70.65 531.71,70.64 532.47,70.64 533.22,70.64 533.96,70.63 534.68,70.63 535.40,70.63 536.09,70.63 536.77,70.62 537.44,70.62 538.08,70.62 538.70,70.61 539.31,70.61 539.88,70.61 540.44,70.61 540.96,70.61 541.46,70.60 541.93,70.60 542.37,70.60 542.78,70.60 543.16,70.60 543.50,70.60" fill="none" stroke="#f58a78" stroke-width="0.42" stroke-linejoin="round" />
<polyline points="381.50,70.60 381.87,70.60 382.33,70.61 382.86,70.61 383.45,70.62 384.10,70.64 384.80,70.65 385.54,70.66 386.31,70.68 387.10,70.69 387.92,70.70 388.74,70.71 389.56,70.72 390.38,70.73 391.18,70.73 391.96,70.73 392.70,70.73 393.41,70.72 394.07,70.71 394.68,70.69 395.22,70.67 395.69,70.64 396.08,70.60 397.35,69.45 396.89,68.80 397.24,70.85 397.70,72.85 396.18,71.98 399.32,70.60 399.68,70.58 400.06,70.57 400.48,70.55 400.92,70.54 401.39,70.53 401.88,70.52 402.40,70.52 402.94,70.51 403.51,70.51 404.09,70.51 404.70,70.51 405.32,70.51 405.96,70.52 406.62,70.52 407.30,70.53 407.99,70.54 408.69,70.54 409.41,70.55 410.14,70.56 410.89,70.57 411.64,70.58 412.40,70.60 413.17,70.61 413.95,70.62 414.73,70.63 415.52,70.65 416.31,70.66 417.10,70.67 417.90,70.68 418.70,70.70 419.50,70.71 420.29,70.72 421.09,70.73 421.88,70.74 422.67,70.75 423.45,70.76 424.23,70.77 425.00,70.78 425.76,70.79 426.52,70.79 427.26,70.80 427.99,70.80 428.71,70.80 429.42,70.80 430.11,70.80 430.79,70.80 431.45,70.79 432.10,70.78 432.73,70.78 433.33,70.77 433.92,70.75 434.49,70.74 435.03,70.72 435.56,70.70 436.05,70.68 436.53,70.66 436.97,70.63 437.39,70.60 439.03,70.41 440.35,70.14 441.40,69.79 442.23,69.40 442.87,68.99 443.36,68.56 443.75,68.15 444.08,67.76 444.39,67.43 444.73,67.17 445.13,67.00 445.64,66.93 446.30,67.00 446.91,67.19 447.53,67.52 448.16,67.96 448.80,68.50 449.44,69.11 450.09,69.77 450.75,70.45 451.41,71.15 452.08,71.82 452.75,72.46 453.43,73.03 454.10,73.52 454.78,73.90 455.46,74.16 456.15,74.27 456.83,74.20 457.49,73.95 458.16,73.52 458.86,72.93 459.56,72.21 460.28,71.38 461.00,70.46 461.72,69.49 462.45,68.48 463.16,67.46 463.86,66.45 464.55,65.49 465.23,64.58 465.87,63.77 466.50,63.06 467.09,62.50 467.65,62.09 468.17,61.87 469.16,61.97 470.02,62.65 470.78,63.77 471.46,65.15 472.08,66.65 472.67,68.08 473.25,69.31 473.84,70.15 474.59,70.67 475.23,70.76 475.84,70.67 476.45,70.61 477.12,70.81 477.89,71.50 478.48,72.39 479.12,73.63 479.79,75.10 480.50,76.69 481.21,78.28 481.93,79.75 482.63,80.99 483.31,81.88 483.96,82.30 484.66,82.16 485.33,81.50 485.98,80.45 486.62,79.15 487.26,77.74 487.90,76.35 488.56,75.13 489.23,74.20 489.63,73.51 489.61,72.90 489.44,72.36 489.36,71.89 489.61,71.49 490.45,71.14 492.13,70.85 494.90,70.60 495.27,70.58 495.67,70.55 496.09,70.53 496.53,70.51 496.99,70.50 497.48,70.48 497.98,70.46 498.50,70.45 499.05,70.43 499.60,70.42 500.18,70.41 500.78,70.40 501.38,70.39 502.01,70.38 502.65,70.37 503.30,70.36 503.97,70.36 504.65,70.35 505.34,70.35 506.05,70.34 506.76,70.34 507.49,70.34 508.22,70.33 508.97,70.33 509.72,70.33 510.48,70.33 511.25,70.33 512.02,70.34 512.80,70.34 513.58,70.34 514.37,70.34 515.16,70.35 515.96,70.35 516.75,70.36 517.55,70.36 518.35,70.37 519.15,70.37 519.95,70.38 520.75,70.38 521.55,70.39 522.35,70.40 523.14,70.40 523.93,70.41 524.72,70.42 525.50,70.43 526.27,70.43 527.04,70.44 527.81,70.45 528.56,70.46 529.31,70.47 530.05,70.47 530.78,70.48 531.50,70.49 532.21,70.50 532.91,70.51 533.59,70.51 534.26,70.52 534.93,70.53 535.57,70.54 536.20,70.54 536.82,70.55 537.42,70.56 538.01,70.56 538.57,70.57 539.12,70.57 539.65,70.58 540.17,70.58 540.66,70.59 541.13,70.59 541.58,70.59 542.01,70.60 542.42,70.60 542.80,70.60 543.16,70.60 543.50,70.60" fill="none" stroke="#f5735e" stroke-width="1.2" stroke-linejoin="round" />
<polyline points="439.03,70.41 440.35,70.14 441.40,69.79 442.23,69.40 442.87,68.99 443.36,68.56 443.75,68.15 444.08,67.76 444.39,67.43 444.73,67.17 445.13,67.00 445.64,66.93 446.30,67.00 446.91,67.19 447.53,67.52 448.16,67.96 448.80,68.50 449.44,69.11 450.09,69.77 450.75,70.45 451.41,71.15 452.08,71.82 452.75,72.46 453.43,73.03 454.10,73.52 454.78,73.90 455.46,74.16 456.15,74.27 456.83,74.20 457.49,73.95 458.16,73.52 458.86,72.93 459.56,72.21 460.28,71.38 461.00,70.46 461.72,69.49 462.45,68.48 463.16,67.46 463.86,66.45 464.55,65.49 465.23,64.58 465.87,63.77 466.50,63.06 467.09,62.50 467.65,62.09 468.17,61.87 469.16,61.97 470.02,62.65 470.78,63.77 471.46,65.15 472.08,66.65 472.67,68.08 473.25,69.31 473.84,70.15 474.59,70.67 475.23,70.76 475.84,70.67 476.45,70.61 477.12,70.81 477.89,71.50 478.48,72.39 479.12,73.63 479.79,75.10 480.50,76.69 481.21,78.28 481.93,79.75 482.63,80.99 483.31,81.88 483.96,82.30 484.66,82.16 485.33,81.50 485.98,80.45 486.62,79.15 487.26,77.74 487.90,76.35 488.56,75.13 489.23,74.20 489.63,73.51 489.61,72.90 489.44,72.36 489.36,71.89 489.61,71.49 490.45,71.14 492.13,70.85 494.90,70.60 495.27,70.58 495.67,70.55 496.09,70.53" fill="none" stroke="#e63419" stroke-width="0.95" stroke-linejoin="round" />
<line x1="381.50" y1="16.20" x2="381.50" y2="125.30" stroke="#111111" stroke-width="1.4" />
<line x1="379.20" y1="16.60" x2="381.50" y2="16.60" stroke="#111111" stroke-width="1" />
<text x="378.30" y="19.00" font-size="6.4" text-anchor="end" fill="#111111" >6</text>
<line x1="379.20" y1="43.60" x2="381.50" y2="43.60" stroke="#111111" stroke-width="1" />
<text x="378.30" y="46.00" font-size="6.4" text-anchor="end" fill="#111111" >3</text>
<line x1="379.20" y1="70.60" x2="381.50" y2="70.60" stroke="#111111" stroke-width="1" />
<text x="378.30" y="73.00" font-size="6.4" text-anchor="end" fill="#111111" >0</text>
<line x1="379.20" y1="97.60" x2="381.50" y2="97.60" stroke="#111111" stroke-width="1" />
<text x="378.30" y="100.00" font-size="6.4" text-anchor="end" fill="#111111" >-3</text>
<line x1="379.20" y1="124.60" x2="381.50" y2="124.60" stroke="#111111" stroke-width="1" />
<text x="378.30" y="127.00" font-size="6.4" text-anchor="end" fill="#111111" >-6</text>
<line x1="380.80" y1="124.60" x2="543.50" y2="124.60" stroke="#111111" stroke-width="1.5" />
<line x1="381.50" y1="124.60" x2="381.50" y2="127.10" stroke="#111111" stroke-width="1" />
<line x1="397.70" y1="124.60" x2="397.70" y2="127.10" stroke="#111111" stroke-width="1" />
<line x1="413.90" y1="124.60" x2="413.90" y2="127.10" stroke="#111111" stroke-width="1" />
<line x1="430.10" y1="124.60" x2="430.10" y2="127.10" stroke="#111111" stroke-width="1" />
<line x1="446.30" y1="124.60" x2="446.30" y2="127.10" stroke="#111111" stroke-width="1" />
<line x1="462.50" y1="124.60" x2="462.50" y2="127.10" stroke="#111111" stroke-width="1" />
<line x1="478.70" y1="124.60" x2="478.70" y2="127.10" stroke="#111111" stroke-width="1" />
<line x1="494.90" y1="124.60" x2="494.90" y2="127.10" stroke="#111111" stroke-width="1" />
<line x1="511.10" y1="124.60" x2="511.10" y2="127.10" stroke="#111111" stroke-width="1" />
<line x1="527.30" y1="124.60" x2="527.30" y2="127.10" stroke="#111111" stroke-width="1" />
<line x1="543.50" y1="124.60" x2="543.50" y2="127.10" stroke="#111111" stroke-width="1" />
<text x="381.50" y="134.10" font-size="6.7" text-anchor="middle" fill="#111111" >10</text>
<text x="462.50" y="134.10" font-size="6.7" text-anchor="middle" fill="#111111" >20</text>
<text x="543.50" y="134.10" font-size="6.7" text-anchor="middle" fill="#111111" >30</text>
<text x="365.20" y="70.60" font-size="9" text-anchor="middle" fill="#111111" textLength="81" lengthAdjust="spacing" transform="rotate(-90 365.20 70.60)" >Forearm EMG (mV)</text>
<text x="468.50" y="146.30" font-size="9.3" text-anchor="middle" fill="#111111" textLength="41.6" lengthAdjust="spacing" >Time (ms)</text>
<text x="468.30" y="14.60" font-size="11.4" text-anchor="middle" fill="#111111" font-weight="bold" textLength="57" lengthAdjust="spacing" >Mean MEP</text>
<text x="468.30" y="26.80" font-size="10" text-anchor="middle" fill="#111111" >(SCI)</text>
<line x1="577.00" y1="18.00" x2="577.00" y2="124.70" stroke="#111111" stroke-width="1.4" />
<line x1="574.70" y1="124.00" x2="577.00" y2="124.00" stroke="#111111" stroke-width="1" />
<text x="573.80" y="126.40" font-size="7" text-anchor="end" fill="#111111" >0</text>
<line x1="574.70" y1="97.60" x2="577.00" y2="97.60" stroke="#111111" stroke-width="1" />
<text x="573.80" y="100.00" font-size="7" text-anchor="end" fill="#111111" >1</text>
<line x1="574.70" y1="71.20" x2="577.00" y2="71.20" stroke="#111111" stroke-width="1" />
<text x="573.80" y="73.60" font-size="7" text-anchor="end" fill="#111111" >2</text>
<line x1="574.70" y1="44.80" x2="577.00" y2="44.80" stroke="#111111" stroke-width="1" />
<text x="573.80" y="47.20" font-size="7" text-anchor="end" fill="#111111" >3</text>
<line x1="574.70" y1="18.40" x2="577.00" y2="18.40" stroke="#111111" stroke-width="1" />
<text x="573.80" y="20.80" font-size="7" text-anchor="end" fill="#111111" >4</text>
<line x1="576.30" y1="124.00" x2="685.00" y2="124.00" stroke="#111111" stroke-width="1.5" />
<rect x="592.5" y="107.90" width="31" height="16.10" fill="#8e8e8e" stroke="#2a2a2a" stroke-width="1"/>
<rect x="638" y="79.91" width="31" height="44.09" fill="#fa8e7c" stroke="#ef4a33" stroke-width="1"/>
<line x1="608.00" y1="114.23" x2="608.00" y2="101.30" stroke="#2a2a2a" stroke-width="1.1" />
<line x1="600.50" y1="114.23" x2="615.50" y2="114.23" stroke="#2a2a2a" stroke-width="1.1" />
<line x1="600.50" y1="101.30" x2="615.50" y2="101.30" stroke="#2a2a2a" stroke-width="1.1" />
<line x1="653.50" y1="90.47" x2="653.50" y2="70.41" stroke="#ef4a33" stroke-width="1.1" />
<line x1="646.00" y1="90.47" x2="661.00" y2="90.47" stroke="#ef4a33" stroke-width="1.1" />
<line x1="646.00" y1="70.41" x2="661.00" y2="70.41" stroke="#ef4a33" stroke-width="1.1" />
<circle cx="608.00" cy="80.44" r="1.2" fill="#5e5e5e" />
<circle cx="608.00" cy="101.03" r="1.2" fill="#5e5e5e" />
<circle cx="604.00" cy="116.87" r="1.2" fill="#5e5e5e" />
<circle cx="608.00" cy="116.87" r="1.2" fill="#5e5e5e" />
<circle cx="612.00" cy="116.87" r="1.2" fill="#5e5e5e" />
<circle cx="653.50" cy="41.63" r="1.2" fill="#ef6650" />
<circle cx="653.50" cy="63.28" r="1.2" fill="#ef6650" />
<circle cx="653.50" cy="77.80" r="1.2" fill="#ef6650" />
<circle cx="653.50" cy="93.11" r="1.2" fill="#ef6650" />
<circle cx="653.50" cy="98.13" r="1.2" fill="#ef6650" />
<circle cx="653.50" cy="107.37" r="1.2" fill="#ef6650" />
<path d="M607.5,32 L607.5,29.5 L654.5,29.5 L654.5,32" fill="none" stroke="#222" stroke-width="1"/>
<path d="M631.40,23.00L631.40,27.00M629.67,24.00L633.13,26.00M629.67,26.00L633.13,24.00" stroke="#444" stroke-width="0.85" fill="none"/>
<text x="607.50" y="134.00" font-size="6.8" text-anchor="middle" fill="#111111" >Sham</text>
<text x="653.70" y="134.00" font-size="6.8" text-anchor="middle" fill="#111111" >SCI</text>
<text x="629.50" y="14.00" font-size="11.4" text-anchor="middle" fill="#111111" font-weight="bold" textLength="62" lengthAdjust="spacing" >MEP Range</text>
<text x="563.00" y="71.00" font-size="8.6" text-anchor="middle" fill="#111111" textLength="102" lengthAdjust="spacing" transform="rotate(-90 563.00 71.00)" ><tspan font-size="1.2em">√</tspan>Peak to peak amp. (mV<tspan font-size="5" dy="-3.2">1/2</tspan><tspan dy="3.2">)</tspan></text>
<circle cx="36.40" cy="310.69" r="1.15" fill="#8c8c8c" />
<circle cx="40.40" cy="310.69" r="1.15" fill="#8c8c8c" />
<circle cx="51.00" cy="310.69" r="1.15" fill="#8c8c8c" />
<circle cx="55.00" cy="310.22" r="1.15" fill="#8c8c8c" />
<circle cx="67.60" cy="295.01" r="1.15" fill="#8c8c8c" />
<circle cx="65.60" cy="307.18" r="1.15" fill="#8c8c8c" />
<circle cx="69.60" cy="309.52" r="1.15" fill="#8c8c8c" />
<circle cx="82.20" cy="296.18" r="1.15" fill="#8c8c8c" />
<circle cx="81.20" cy="297.82" r="1.15" fill="#8c8c8c" />
<circle cx="79.20" cy="309.52" r="1.15" fill="#8c8c8c" />
<circle cx="82.20" cy="309.52" r="1.15" fill="#8c8c8c" />
<circle cx="85.20" cy="308.35" r="1.15" fill="#8c8c8c" />
<circle cx="94.80" cy="305.54" r="1.15" fill="#8c8c8c" />
<circle cx="96.80" cy="309.52" r="1.15" fill="#8c8c8c" />
<circle cx="99.80" cy="309.52" r="1.15" fill="#8c8c8c" />
<circle cx="111.40" cy="284.95" r="1.15" fill="#8c8c8c" />
<circle cx="108.40" cy="307.18" r="1.15" fill="#8c8c8c" />
<circle cx="111.40" cy="307.18" r="1.15" fill="#8c8c8c" />
<circle cx="114.40" cy="308.35" r="1.15" fill="#8c8c8c" />
<circle cx="123.00" cy="307.18" r="1.15" fill="#8c8c8c" />
<circle cx="126.00" cy="307.18" r="1.15" fill="#8c8c8c" />
<circle cx="129.00" cy="307.18" r="1.15" fill="#8c8c8c" />
<circle cx="126.00" cy="297.82" r="1.15" fill="#8c8c8c" />
<circle cx="137.60" cy="307.18" r="1.15" fill="#8c8c8c" />
<circle cx="140.60" cy="307.18" r="1.15" fill="#8c8c8c" />
<circle cx="143.60" cy="309.52" r="1.15" fill="#8c8c8c" />
<circle cx="153.20" cy="307.18" r="1.15" fill="#8c8c8c" />
<circle cx="157.20" cy="307.18" r="1.15" fill="#8c8c8c" />
<circle cx="169.80" cy="270.44" r="1.15" fill="#8c8c8c" />
<circle cx="166.80" cy="307.18" r="1.15" fill="#8c8c8c" />
<circle cx="172.80" cy="307.18" r="1.15" fill="#8c8c8c" />
<circle cx="181.40" cy="271.38" r="1.15" fill="#8c8c8c" />
<circle cx="184.40" cy="271.38" r="1.15" fill="#8c8c8c" />
<circle cx="182.40" cy="307.18" r="1.15" fill="#8c8c8c" />
<circle cx="186.40" cy="307.18" r="1.15" fill="#8c8c8c" />
<circle cx="184.40" cy="304.84" r="1.15" fill="#8c8c8c" />
<circle cx="199.00" cy="228.32" r="1.15" fill="#8c8c8c" />
<circle cx="199.00" cy="263.42" r="1.15" fill="#8c8c8c" />
<circle cx="197.00" cy="304.84" r="1.15" fill="#8c8c8c" />
<circle cx="201.00" cy="307.18" r="1.15" fill="#8c8c8c" />
<circle cx="213.60" cy="277.46" r="1.15" fill="#8c8c8c" />
<circle cx="211.60" cy="304.84" r="1.15" fill="#8c8c8c" />
<circle cx="215.60" cy="307.18" r="1.15" fill="#8c8c8c" />
<circle cx="38.40" cy="310.69" r="1.15" fill="#f89c8c" />
<circle cx="53.00" cy="310.69" r="1.15" fill="#f89c8c" />
<circle cx="69.60" cy="309.52" r="1.15" fill="#f89c8c" />
<circle cx="65.60" cy="309.52" r="1.15" fill="#f89c8c" />
<circle cx="82.20" cy="283.78" r="1.15" fill="#f89c8c" />
<circle cx="84.20" cy="309.52" r="1.15" fill="#f89c8c" />
<circle cx="96.80" cy="262.72" r="1.15" fill="#f89c8c" />
<circle cx="94.80" cy="305.54" r="1.15" fill="#f89c8c" />
<circle cx="98.80" cy="309.52" r="1.15" fill="#f89c8c" />
<circle cx="111.40" cy="275.36" r="1.15" fill="#f89c8c" />
<circle cx="111.40" cy="289.40" r="1.15" fill="#f89c8c" />
<circle cx="109.40" cy="307.18" r="1.15" fill="#f89c8c" />
<circle cx="126.00" cy="265.53" r="1.15" fill="#f89c8c" />
<circle cx="126.00" cy="277.70" r="1.15" fill="#f89c8c" />
<circle cx="126.00" cy="284.95" r="1.15" fill="#f89c8c" />
<circle cx="128.00" cy="307.18" r="1.15" fill="#f89c8c" />
<circle cx="140.60" cy="251.49" r="1.15" fill="#f89c8c" />
<circle cx="140.60" cy="256.17" r="1.15" fill="#f89c8c" />
<circle cx="142.60" cy="307.18" r="1.15" fill="#f89c8c" />
<circle cx="155.20" cy="244.23" r="1.15" fill="#f89c8c" />
<circle cx="155.20" cy="257.57" r="1.15" fill="#f89c8c" />
<circle cx="153.20" cy="307.18" r="1.15" fill="#f89c8c" />
<circle cx="169.80" cy="219.90" r="1.15" fill="#f89c8c" />
<circle cx="167.80" cy="247.74" r="1.15" fill="#f89c8c" />
<circle cx="171.80" cy="247.74" r="1.15" fill="#f89c8c" />
<circle cx="169.80" cy="307.18" r="1.15" fill="#f89c8c" />
<circle cx="184.40" cy="218.96" r="1.15" fill="#f89c8c" />
<circle cx="187.40" cy="271.38" r="1.15" fill="#f89c8c" />
<circle cx="184.40" cy="283.78" r="1.15" fill="#f89c8c" />
<circle cx="184.40" cy="307.18" r="1.15" fill="#f89c8c" />
<circle cx="199.00" cy="221.77" r="1.15" fill="#f89c8c" />
<circle cx="199.00" cy="237.68" r="1.15" fill="#f89c8c" />
<circle cx="199.00" cy="307.18" r="1.15" fill="#f89c8c" />
<circle cx="213.60" cy="225.75" r="1.15" fill="#f89c8c" />
<circle cx="213.60" cy="241.66" r="1.15" fill="#f89c8c" />
<circle cx="211.60" cy="246.81" r="1.15" fill="#f89c8c" />
<circle cx="215.60" cy="246.81" r="1.15" fill="#f89c8c" />
<circle cx="215.60" cy="275.36" r="1.15" fill="#f89c8c" />
<polyline points="38.40,310.69 53.00,310.69 67.60,305.89 82.20,304.37 96.80,304.61 111.40,301.80 126.00,301.33 140.60,299.46 155.20,298.76 169.80,295.48 184.40,292.67 199.00,282.14 213.60,286.59" fill="none" stroke="#111111" stroke-width="1.0" stroke-linejoin="round" />
<polyline points="38.40,309.85 53.00,310.22 67.60,309.52 82.20,302.27 96.80,293.84 111.40,296.42 126.00,291.50 140.60,278.87 155.20,277.93 169.80,263.89 184.40,261.55 199.00,251.02 213.60,257.34" fill="none" stroke="#f4381f" stroke-width="1.0" stroke-linejoin="round" />
<line x1="38.40" y1="311.16" x2="38.40" y2="310.22" stroke="#111111" stroke-width="1.05" />
<line x1="36.10" y1="311.16" x2="40.70" y2="311.16" stroke="#111111" stroke-width="1.05" />
<line x1="36.10" y1="310.22" x2="40.70" y2="310.22" stroke="#111111" stroke-width="1.05" />
<line x1="53.00" y1="311.16" x2="53.00" y2="310.22" stroke="#111111" stroke-width="1.05" />
<line x1="50.70" y1="311.16" x2="55.30" y2="311.16" stroke="#111111" stroke-width="1.05" />
<line x1="50.70" y1="310.22" x2="55.30" y2="310.22" stroke="#111111" stroke-width="1.05" />
<line x1="67.60" y1="307.76" x2="67.60" y2="304.02" stroke="#111111" stroke-width="1.05" />
<line x1="65.30" y1="307.76" x2="69.90" y2="307.76" stroke="#111111" stroke-width="1.05" />
<line x1="65.30" y1="304.02" x2="69.90" y2="304.02" stroke="#111111" stroke-width="1.05" />
<line x1="82.20" y1="306.71" x2="82.20" y2="302.03" stroke="#111111" stroke-width="1.05" />
<line x1="79.90" y1="306.71" x2="84.50" y2="306.71" stroke="#111111" stroke-width="1.05" />
<line x1="79.90" y1="302.03" x2="84.50" y2="302.03" stroke="#111111" stroke-width="1.05" />
<line x1="96.80" y1="306.95" x2="96.80" y2="302.27" stroke="#111111" stroke-width="1.05" />
<line x1="94.50" y1="306.95" x2="99.10" y2="306.95" stroke="#111111" stroke-width="1.05" />
<line x1="94.50" y1="302.27" x2="99.10" y2="302.27" stroke="#111111" stroke-width="1.05" />
<line x1="111.40" y1="304.61" x2="111.40" y2="298.99" stroke="#111111" stroke-width="1.05" />
<line x1="109.10" y1="304.61" x2="113.70" y2="304.61" stroke="#111111" stroke-width="1.05" />
<line x1="109.10" y1="298.99" x2="113.70" y2="298.99" stroke="#111111" stroke-width="1.05" />
<line x1="126.00" y1="303.67" x2="126.00" y2="298.99" stroke="#111111" stroke-width="1.05" />
<line x1="123.70" y1="303.67" x2="128.30" y2="303.67" stroke="#111111" stroke-width="1.05" />
<line x1="123.70" y1="298.99" x2="128.30" y2="298.99" stroke="#111111" stroke-width="1.05" />
<line x1="140.60" y1="302.97" x2="140.60" y2="295.95" stroke="#111111" stroke-width="1.05" />
<line x1="138.30" y1="302.97" x2="142.90" y2="302.97" stroke="#111111" stroke-width="1.05" />
<line x1="138.30" y1="295.95" x2="142.90" y2="295.95" stroke="#111111" stroke-width="1.05" />
<line x1="155.20" y1="302.27" x2="155.20" y2="295.25" stroke="#111111" stroke-width="1.05" />
<line x1="152.90" y1="302.27" x2="157.50" y2="302.27" stroke="#111111" stroke-width="1.05" />
<line x1="152.90" y1="295.25" x2="157.50" y2="295.25" stroke="#111111" stroke-width="1.05" />
<line x1="169.80" y1="302.50" x2="169.80" y2="288.46" stroke="#111111" stroke-width="1.05" />
<line x1="167.50" y1="302.50" x2="172.10" y2="302.50" stroke="#111111" stroke-width="1.05" />
<line x1="167.50" y1="288.46" x2="172.10" y2="288.46" stroke="#111111" stroke-width="1.05" />
<line x1="184.40" y1="299.69" x2="184.40" y2="285.65" stroke="#111111" stroke-width="1.05" />
<line x1="182.10" y1="299.69" x2="186.70" y2="299.69" stroke="#111111" stroke-width="1.05" />
<line x1="182.10" y1="285.65" x2="186.70" y2="285.65" stroke="#111111" stroke-width="1.05" />
<line x1="199.00" y1="295.01" x2="199.00" y2="269.27" stroke="#111111" stroke-width="1.05" />
<line x1="196.70" y1="295.01" x2="201.30" y2="295.01" stroke="#111111" stroke-width="1.05" />
<line x1="196.70" y1="269.27" x2="201.30" y2="269.27" stroke="#111111" stroke-width="1.05" />
<line x1="213.60" y1="295.48" x2="213.60" y2="277.70" stroke="#111111" stroke-width="1.05" />
<line x1="211.30" y1="295.48" x2="215.90" y2="295.48" stroke="#111111" stroke-width="1.05" />
<line x1="211.30" y1="277.70" x2="215.90" y2="277.70" stroke="#111111" stroke-width="1.05" />
<line x1="38.40" y1="310.32" x2="38.40" y2="309.38" stroke="#f4381f" stroke-width="1.05" />
<line x1="36.10" y1="310.32" x2="40.70" y2="310.32" stroke="#f4381f" stroke-width="1.05" />
<line x1="36.10" y1="309.38" x2="40.70" y2="309.38" stroke="#f4381f" stroke-width="1.05" />
<line x1="53.00" y1="310.69" x2="53.00" y2="309.75" stroke="#f4381f" stroke-width="1.05" />
<line x1="50.70" y1="310.69" x2="55.30" y2="310.69" stroke="#f4381f" stroke-width="1.05" />
<line x1="50.70" y1="309.75" x2="55.30" y2="309.75" stroke="#f4381f" stroke-width="1.05" />
<line x1="67.60" y1="310.22" x2="67.60" y2="308.82" stroke="#f4381f" stroke-width="1.05" />
<line x1="65.30" y1="310.22" x2="69.90" y2="310.22" stroke="#f4381f" stroke-width="1.05" />
<line x1="65.30" y1="308.82" x2="69.90" y2="308.82" stroke="#f4381f" stroke-width="1.05" />
<line x1="82.20" y1="305.78" x2="82.20" y2="298.76" stroke="#f4381f" stroke-width="1.05" />
<line x1="79.90" y1="305.78" x2="84.50" y2="305.78" stroke="#f4381f" stroke-width="1.05" />
<line x1="79.90" y1="298.76" x2="84.50" y2="298.76" stroke="#f4381f" stroke-width="1.05" />
<line x1="96.80" y1="300.86" x2="96.80" y2="286.82" stroke="#f4381f" stroke-width="1.05" />
<line x1="94.50" y1="300.86" x2="99.10" y2="300.86" stroke="#f4381f" stroke-width="1.05" />
<line x1="94.50" y1="286.82" x2="99.10" y2="286.82" stroke="#f4381f" stroke-width="1.05" />
<line x1="111.40" y1="301.10" x2="111.40" y2="291.74" stroke="#f4381f" stroke-width="1.05" />
<line x1="109.10" y1="301.10" x2="113.70" y2="301.10" stroke="#f4381f" stroke-width="1.05" />
<line x1="109.10" y1="291.74" x2="113.70" y2="291.74" stroke="#f4381f" stroke-width="1.05" />
<line x1="126.00" y1="298.05" x2="126.00" y2="284.95" stroke="#f4381f" stroke-width="1.05" />
<line x1="123.70" y1="298.05" x2="128.30" y2="298.05" stroke="#f4381f" stroke-width="1.05" />
<line x1="123.70" y1="284.95" x2="128.30" y2="284.95" stroke="#f4381f" stroke-width="1.05" />
<line x1="140.60" y1="288.23" x2="140.60" y2="269.51" stroke="#f4381f" stroke-width="1.05" />
<line x1="138.30" y1="288.23" x2="142.90" y2="288.23" stroke="#f4381f" stroke-width="1.05" />
<line x1="138.30" y1="269.51" x2="142.90" y2="269.51" stroke="#f4381f" stroke-width="1.05" />
<line x1="155.20" y1="288.46" x2="155.20" y2="267.40" stroke="#f4381f" stroke-width="1.05" />
<line x1="152.90" y1="288.46" x2="157.50" y2="288.46" stroke="#f4381f" stroke-width="1.05" />
<line x1="152.90" y1="267.40" x2="157.50" y2="267.40" stroke="#f4381f" stroke-width="1.05" />
<line x1="169.80" y1="276.76" x2="169.80" y2="251.02" stroke="#f4381f" stroke-width="1.05" />
<line x1="167.50" y1="276.76" x2="172.10" y2="276.76" stroke="#f4381f" stroke-width="1.05" />
<line x1="167.50" y1="251.02" x2="172.10" y2="251.02" stroke="#f4381f" stroke-width="1.05" />
<line x1="184.40" y1="270.91" x2="184.40" y2="252.19" stroke="#f4381f" stroke-width="1.05" />
<line x1="182.10" y1="270.91" x2="186.70" y2="270.91" stroke="#f4381f" stroke-width="1.05" />
<line x1="182.10" y1="252.19" x2="186.70" y2="252.19" stroke="#f4381f" stroke-width="1.05" />
<line x1="199.00" y1="259.91" x2="199.00" y2="242.13" stroke="#f4381f" stroke-width="1.05" />
<line x1="196.70" y1="259.91" x2="201.30" y2="259.91" stroke="#f4381f" stroke-width="1.05" />
<line x1="196.70" y1="242.13" x2="201.30" y2="242.13" stroke="#f4381f" stroke-width="1.05" />
<line x1="213.60" y1="266.70" x2="213.60" y2="247.98" stroke="#f4381f" stroke-width="1.05" />
<line x1="211.30" y1="266.70" x2="215.90" y2="266.70" stroke="#f4381f" stroke-width="1.05" />
<line x1="211.30" y1="247.98" x2="215.90" y2="247.98" stroke="#f4381f" stroke-width="1.05" />
<circle cx="38.40" cy="310.69" r="2.0" fill="#111111" />
<circle cx="53.00" cy="310.69" r="2.0" fill="#111111" />
<circle cx="67.60" cy="305.89" r="2.0" fill="#111111" />
<circle cx="82.20" cy="304.37" r="2.0" fill="#111111" />
<circle cx="96.80" cy="304.61" r="2.0" fill="#111111" />
<circle cx="111.40" cy="301.80" r="2.0" fill="#111111" />
<circle cx="126.00" cy="301.33" r="2.0" fill="#111111" />
<circle cx="140.60" cy="299.46" r="2.0" fill="#111111" />
<circle cx="155.20" cy="298.76" r="2.0" fill="#111111" />
<circle cx="169.80" cy="295.48" r="2.0" fill="#111111" />
<circle cx="184.40" cy="292.67" r="2.0" fill="#111111" />
<circle cx="199.00" cy="282.14" r="2.0" fill="#111111" />
<circle cx="213.60" cy="286.59" r="2.0" fill="#111111" />
<circle cx="38.40" cy="309.85" r="2.0" fill="#f4381f" />
<circle cx="53.00" cy="310.22" r="2.0" fill="#f4381f" />
<circle cx="67.60" cy="309.52" r="2.0" fill="#f4381f" />
<circle cx="82.20" cy="302.27" r="2.0" fill="#f4381f" />
<circle cx="96.80" cy="293.84" r="2.0" fill="#f4381f" />
<circle cx="111.40" cy="296.42" r="2.0" fill="#f4381f" />
<circle cx="126.00" cy="291.50" r="2.0" fill="#f4381f" />
<circle cx="140.60" cy="278.87" r="2.0" fill="#f4381f" />
<circle cx="155.20" cy="277.93" r="2.0" fill="#f4381f" />
<circle cx="169.80" cy="263.89" r="2.0" fill="#f4381f" />
<circle cx="184.40" cy="261.55" r="2.0" fill="#f4381f" />
<circle cx="199.00" cy="251.02" r="2.0" fill="#f4381f" />
<circle cx="213.60" cy="257.34" r="2.0" fill="#f4381f" />
<line x1="28.40" y1="196.80" x2="28.40" y2="314.90" stroke="#111111" stroke-width="1.4" />
<line x1="26.10" y1="314.20" x2="28.40" y2="314.20" stroke="#111111" stroke-width="1" />
<text x="25.20" y="316.60" font-size="6.9" text-anchor="end" fill="#111111" >0</text>
<line x1="26.10" y1="290.80" x2="28.40" y2="290.80" stroke="#111111" stroke-width="1" />
<text x="25.20" y="293.20" font-size="6.9" text-anchor="end" fill="#111111" >1</text>
<line x1="26.10" y1="267.40" x2="28.40" y2="267.40" stroke="#111111" stroke-width="1" />
<text x="25.20" y="269.80" font-size="6.9" text-anchor="end" fill="#111111" >2</text>
<line x1="26.10" y1="244.00" x2="28.40" y2="244.00" stroke="#111111" stroke-width="1" />
<text x="25.20" y="246.40" font-size="6.9" text-anchor="end" fill="#111111" >3</text>
<line x1="26.10" y1="220.60" x2="28.40" y2="220.60" stroke="#111111" stroke-width="1" />
<text x="25.20" y="223.00" font-size="6.9" text-anchor="end" fill="#111111" >4</text>
<line x1="26.10" y1="197.20" x2="28.40" y2="197.20" stroke="#111111" stroke-width="1" />
<text x="25.20" y="199.60" font-size="6.9" text-anchor="end" fill="#111111" >5</text>
<line x1="27.70" y1="314.20" x2="223.40" y2="314.20" stroke="#111111" stroke-width="1.5" />
<line x1="38.40" y1="314.20" x2="38.40" y2="316.60" stroke="#111111" stroke-width="1" />
<line x1="53.00" y1="314.20" x2="53.00" y2="316.60" stroke="#111111" stroke-width="1" />
<line x1="67.60" y1="314.20" x2="67.60" y2="316.60" stroke="#111111" stroke-width="1" />
<line x1="82.20" y1="314.20" x2="82.20" y2="316.60" stroke="#111111" stroke-width="1" />
<line x1="96.80" y1="314.20" x2="96.80" y2="316.60" stroke="#111111" stroke-width="1" />
<line x1="111.40" y1="314.20" x2="111.40" y2="316.60" stroke="#111111" stroke-width="1" />
<line x1="126.00" y1="314.20" x2="126.00" y2="316.60" stroke="#111111" stroke-width="1" />
<line x1="140.60" y1="314.20" x2="140.60" y2="316.60" stroke="#111111" stroke-width="1" />
<line x1="155.20" y1="314.20" x2="155.20" y2="316.60" stroke="#111111" stroke-width="1" />
<line x1="169.80" y1="314.20" x2="169.80" y2="316.60" stroke="#111111" stroke-width="1" />
<line x1="184.40" y1="314.20" x2="184.40" y2="316.60" stroke="#111111" stroke-width="1" />
<line x1="199.00" y1="314.20" x2="199.00" y2="316.60" stroke="#111111" stroke-width="1" />
<line x1="213.60" y1="314.20" x2="213.60" y2="316.60" stroke="#111111" stroke-width="1" />
<line x1="37.10" y1="204.25" x2="47.90" y2="204.25" stroke="#111111" stroke-width="1.1" />
<circle cx="42.50" cy="204.25" r="2.0" fill="#111111" />
<text x="50.30" y="206.15" font-size="6.8" text-anchor="start" fill="#111111" >Sham</text>
<line x1="37.10" y1="216.30" x2="47.90" y2="216.30" stroke="#f4381f" stroke-width="1.1" />
<circle cx="42.50" cy="216.30" r="2.0" fill="#f4381f" />
<text x="50.30" y="218.20" font-size="6.8" text-anchor="start" fill="#111111" >SCI</text>
<text x="39.90" y="319.40" font-size="6.7" text-anchor="end" fill="#111111" transform="rotate(-45 39.90 319.40)" dominant-baseline="central">3</text>
<text x="54.50" y="319.40" font-size="6.7" text-anchor="end" fill="#111111" transform="rotate(-45 54.50 319.40)" dominant-baseline="central">4</text>
<text x="69.10" y="319.40" font-size="6.7" text-anchor="end" fill="#111111" transform="rotate(-45 69.10 319.40)" dominant-baseline="central">5</text>
<text x="83.70" y="319.40" font-size="6.7" text-anchor="end" fill="#111111" transform="rotate(-45 83.70 319.40)" dominant-baseline="central">6</text>
<text x="98.30" y="319.40" font-size="6.7" text-anchor="end" fill="#111111" transform="rotate(-45 98.30 319.40)" dominant-baseline="central">7</text>
<text x="112.90" y="319.40" font-size="6.7" text-anchor="end" fill="#111111" transform="rotate(-45 112.90 319.40)" dominant-baseline="central">8</text>
<text x="127.50" y="319.40" font-size="6.7" text-anchor="end" fill="#111111" transform="rotate(-45 127.50 319.40)" dominant-baseline="central">9</text>
<text x="142.10" y="319.40" font-size="6.7" text-anchor="end" fill="#111111" transform="rotate(-45 142.10 319.40)" dominant-baseline="central">10</text>
<text x="156.70" y="319.40" font-size="6.7" text-anchor="end" fill="#111111" transform="rotate(-45 156.70 319.40)" dominant-baseline="central">11</text>
<text x="171.30" y="319.40" font-size="6.7" text-anchor="end" fill="#111111" transform="rotate(-45 171.30 319.40)" dominant-baseline="central">12</text>
<text x="185.90" y="319.40" font-size="6.7" text-anchor="end" fill="#111111" transform="rotate(-45 185.90 319.40)" dominant-baseline="central">13</text>
<text x="200.50" y="319.40" font-size="6.7" text-anchor="end" fill="#111111" transform="rotate(-45 200.50 319.40)" dominant-baseline="central">14</text>
<text x="215.10" y="319.40" font-size="6.7" text-anchor="end" fill="#111111" transform="rotate(-45 215.10 319.40)" dominant-baseline="central">15</text>
<text x="125.00" y="341.40" font-size="9.3" text-anchor="middle" fill="#111111" textLength="92" lengthAdjust="spacing" >Stimulus Intensity (mA)</text>
<text x="124.30" y="180.80" font-size="11.4" text-anchor="middle" fill="#111111" font-weight="bold" textLength="62.8" lengthAdjust="spacing" >MEP Range</text>
<text x="95.50" y="191.30" font-size="6.9" text-anchor="start" fill="#111111" font-weight="bold" textLength="38" lengthAdjust="spacing" >Interaction:</text>
<path d="M138.10,187.00L138.10,191.00M136.37,188.00L139.83,190.00M136.37,190.00L139.83,188.00" stroke="#555" stroke-width="0.85" fill="none"/>
<path d="M142.70,187.00L142.70,191.00M140.97,188.00L144.43,190.00M140.97,190.00L144.43,188.00" stroke="#555" stroke-width="0.85" fill="none"/>
<path d="M147.30,187.00L147.30,191.00M145.57,188.00L149.03,190.00M145.57,190.00L149.03,188.00" stroke="#555" stroke-width="0.85" fill="none"/>
<text x="11.50" y="254.00" font-size="9.1" text-anchor="middle" fill="#111111" textLength="111" lengthAdjust="spacing" transform="rotate(-90 11.50 254.00)" ><tspan font-size="1.2em">√</tspan>Peak to peak amp. (mV<tspan font-size="5" dy="-3.2">1/2</tspan><tspan dy="3.2">)</tspan></text>
<circle cx="278.00" cy="307.81" r="1.15" fill="#8c8c8c" />
<circle cx="292.42" cy="307.81" r="1.15" fill="#8c8c8c" />
<circle cx="308.84" cy="294.74" r="1.15" fill="#8c8c8c" />
<circle cx="310.84" cy="306.65" r="1.15" fill="#8c8c8c" />
<circle cx="321.26" cy="305.18" r="1.15" fill="#8c8c8c" />
<circle cx="325.26" cy="305.18" r="1.15" fill="#8c8c8c" />
<circle cx="339.68" cy="305.18" r="1.15" fill="#8c8c8c" />
<circle cx="335.68" cy="304.33" r="1.15" fill="#8c8c8c" />
<circle cx="352.10" cy="282.60" r="1.15" fill="#8c8c8c" />
<circle cx="349.10" cy="302.48" r="1.15" fill="#8c8c8c" />
<circle cx="355.10" cy="302.48" r="1.15" fill="#8c8c8c" />
<circle cx="363.52" cy="302.48" r="1.15" fill="#8c8c8c" />
<circle cx="366.52" cy="302.48" r="1.15" fill="#8c8c8c" />
<circle cx="369.52" cy="302.48" r="1.15" fill="#8c8c8c" />
<circle cx="377.94" cy="302.48" r="1.15" fill="#8c8c8c" />
<circle cx="380.94" cy="302.48" r="1.15" fill="#8c8c8c" />
<circle cx="383.94" cy="302.48" r="1.15" fill="#8c8c8c" />
<circle cx="395.36" cy="275.33" r="1.15" fill="#8c8c8c" />
<circle cx="393.36" cy="304.33" r="1.15" fill="#8c8c8c" />
<circle cx="397.36" cy="304.33" r="1.15" fill="#8c8c8c" />
<circle cx="409.78" cy="275.33" r="1.15" fill="#8c8c8c" />
<circle cx="407.78" cy="302.48" r="1.15" fill="#8c8c8c" />
<circle cx="411.78" cy="302.48" r="1.15" fill="#8c8c8c" />
<circle cx="423.20" cy="278.43" r="1.15" fill="#8c8c8c" />
<circle cx="422.20" cy="302.48" r="1.15" fill="#8c8c8c" />
<circle cx="426.20" cy="302.48" r="1.15" fill="#8c8c8c" />
<circle cx="438.62" cy="222.75" r="1.15" fill="#8c8c8c" />
<circle cx="436.62" cy="300.85" r="1.15" fill="#8c8c8c" />
<circle cx="440.62" cy="304.33" r="1.15" fill="#8c8c8c" />
<circle cx="453.04" cy="265.28" r="1.15" fill="#8c8c8c" />
<circle cx="451.04" cy="300.85" r="1.15" fill="#8c8c8c" />
<circle cx="455.04" cy="300.85" r="1.15" fill="#8c8c8c" />
<circle cx="280.00" cy="307.81" r="1.15" fill="#f89c8c" />
<circle cx="294.42" cy="307.81" r="1.15" fill="#f89c8c" />
<circle cx="306.84" cy="306.65" r="1.15" fill="#f89c8c" />
<circle cx="323.26" cy="282.60" r="1.15" fill="#f89c8c" />
<circle cx="323.26" cy="290.03" r="1.15" fill="#f89c8c" />
<circle cx="320.26" cy="305.18" r="1.15" fill="#f89c8c" />
<circle cx="337.68" cy="246.34" r="1.15" fill="#f89c8c" />
<circle cx="339.68" cy="302.48" r="1.15" fill="#f89c8c" />
<circle cx="352.10" cy="273.02" r="1.15" fill="#f89c8c" />
<circle cx="350.10" cy="302.48" r="1.15" fill="#f89c8c" />
<circle cx="366.52" cy="263.74" r="1.15" fill="#f89c8c" />
<circle cx="366.52" cy="267.60" r="1.15" fill="#f89c8c" />
<circle cx="368.52" cy="302.48" r="1.15" fill="#f89c8c" />
<circle cx="378.94" cy="246.72" r="1.15" fill="#f89c8c" />
<circle cx="382.94" cy="248.27" r="1.15" fill="#f89c8c" />
<circle cx="382.94" cy="302.48" r="1.15" fill="#f89c8c" />
<circle cx="395.36" cy="236.67" r="1.15" fill="#f89c8c" />
<circle cx="395.36" cy="256.00" r="1.15" fill="#f89c8c" />
<circle cx="397.36" cy="304.33" r="1.15" fill="#f89c8c" />
<circle cx="409.78" cy="212.70" r="1.15" fill="#f89c8c" />
<circle cx="409.78" cy="232.80" r="1.15" fill="#f89c8c" />
<circle cx="412.78" cy="300.85" r="1.15" fill="#f89c8c" />
<circle cx="424.20" cy="208.83" r="1.15" fill="#f89c8c" />
<circle cx="427.20" cy="278.43" r="1.15" fill="#f89c8c" />
<circle cx="426.20" cy="300.85" r="1.15" fill="#f89c8c" />
<circle cx="438.62" cy="218.88" r="1.15" fill="#f89c8c" />
<circle cx="438.62" cy="224.30" r="1.15" fill="#f89c8c" />
<circle cx="438.62" cy="256.78" r="1.15" fill="#f89c8c" />
<circle cx="436.62" cy="304.33" r="1.15" fill="#f89c8c" />
<circle cx="453.04" cy="213.47" r="1.15" fill="#f89c8c" />
<circle cx="451.04" cy="226.62" r="1.15" fill="#f89c8c" />
<circle cx="455.04" cy="226.62" r="1.15" fill="#f89c8c" />
<circle cx="453.04" cy="275.33" r="1.15" fill="#f89c8c" />
<polyline points="280.00,307.81 294.42,307.81 308.84,303.95 323.26,303.95 337.68,302.40 352.10,299.31 366.52,297.76 380.94,296.21 395.36,295.44 409.78,291.57 424.20,289.25 438.62,276.88 453.04,283.84" fill="none" stroke="#111111" stroke-width="1.0" stroke-linejoin="round" />
<polyline points="280.00,307.81 294.42,307.81 308.84,307.04 323.26,301.63 337.68,290.03 352.10,294.67 366.52,288.48 380.94,272.24 395.36,274.56 409.78,259.87 424.20,254.46 438.62,246.72 453.04,250.59" fill="none" stroke="#f4381f" stroke-width="1.0" stroke-linejoin="round" />
<line x1="280.00" y1="308.59" x2="280.00" y2="307.04" stroke="#111111" stroke-width="1.05" />
<line x1="277.70" y1="308.59" x2="282.30" y2="308.59" stroke="#111111" stroke-width="1.05" />
<line x1="277.70" y1="307.04" x2="282.30" y2="307.04" stroke="#111111" stroke-width="1.05" />
<line x1="294.42" y1="308.59" x2="294.42" y2="307.04" stroke="#111111" stroke-width="1.05" />
<line x1="292.12" y1="308.59" x2="296.72" y2="308.59" stroke="#111111" stroke-width="1.05" />
<line x1="292.12" y1="307.04" x2="296.72" y2="307.04" stroke="#111111" stroke-width="1.05" />
<line x1="308.84" y1="305.49" x2="308.84" y2="302.40" stroke="#111111" stroke-width="1.05" />
<line x1="306.54" y1="305.49" x2="311.14" y2="305.49" stroke="#111111" stroke-width="1.05" />
<line x1="306.54" y1="302.40" x2="311.14" y2="302.40" stroke="#111111" stroke-width="1.05" />
<line x1="323.26" y1="306.27" x2="323.26" y2="301.63" stroke="#111111" stroke-width="1.05" />
<line x1="320.96" y1="306.27" x2="325.56" y2="306.27" stroke="#111111" stroke-width="1.05" />
<line x1="320.96" y1="301.63" x2="325.56" y2="301.63" stroke="#111111" stroke-width="1.05" />
<line x1="337.68" y1="304.72" x2="337.68" y2="300.08" stroke="#111111" stroke-width="1.05" />
<line x1="335.38" y1="304.72" x2="339.98" y2="304.72" stroke="#111111" stroke-width="1.05" />
<line x1="335.38" y1="300.08" x2="339.98" y2="300.08" stroke="#111111" stroke-width="1.05" />
<line x1="352.10" y1="302.40" x2="352.10" y2="296.21" stroke="#111111" stroke-width="1.05" />
<line x1="349.80" y1="302.40" x2="354.40" y2="302.40" stroke="#111111" stroke-width="1.05" />
<line x1="349.80" y1="296.21" x2="354.40" y2="296.21" stroke="#111111" stroke-width="1.05" />
<line x1="366.52" y1="301.63" x2="366.52" y2="293.89" stroke="#111111" stroke-width="1.05" />
<line x1="364.22" y1="301.63" x2="368.82" y2="301.63" stroke="#111111" stroke-width="1.05" />
<line x1="364.22" y1="293.89" x2="368.82" y2="293.89" stroke="#111111" stroke-width="1.05" />
<line x1="380.94" y1="300.85" x2="380.94" y2="291.57" stroke="#111111" stroke-width="1.05" />
<line x1="378.64" y1="300.85" x2="383.24" y2="300.85" stroke="#111111" stroke-width="1.05" />
<line x1="378.64" y1="291.57" x2="383.24" y2="291.57" stroke="#111111" stroke-width="1.05" />
<line x1="395.36" y1="300.08" x2="395.36" y2="290.80" stroke="#111111" stroke-width="1.05" />
<line x1="393.06" y1="300.08" x2="397.66" y2="300.08" stroke="#111111" stroke-width="1.05" />
<line x1="393.06" y1="290.80" x2="397.66" y2="290.80" stroke="#111111" stroke-width="1.05" />
<line x1="409.78" y1="298.53" x2="409.78" y2="284.61" stroke="#111111" stroke-width="1.05" />
<line x1="407.48" y1="298.53" x2="412.08" y2="298.53" stroke="#111111" stroke-width="1.05" />
<line x1="407.48" y1="284.61" x2="412.08" y2="284.61" stroke="#111111" stroke-width="1.05" />
<line x1="424.20" y1="296.21" x2="424.20" y2="282.29" stroke="#111111" stroke-width="1.05" />
<line x1="421.90" y1="296.21" x2="426.50" y2="296.21" stroke="#111111" stroke-width="1.05" />
<line x1="421.90" y1="282.29" x2="426.50" y2="282.29" stroke="#111111" stroke-width="1.05" />
<line x1="438.62" y1="290.03" x2="438.62" y2="263.74" stroke="#111111" stroke-width="1.05" />
<line x1="436.32" y1="290.03" x2="440.92" y2="290.03" stroke="#111111" stroke-width="1.05" />
<line x1="436.32" y1="263.74" x2="440.92" y2="263.74" stroke="#111111" stroke-width="1.05" />
<line x1="453.04" y1="291.57" x2="453.04" y2="276.11" stroke="#111111" stroke-width="1.05" />
<line x1="450.74" y1="291.57" x2="455.34" y2="291.57" stroke="#111111" stroke-width="1.05" />
<line x1="450.74" y1="276.11" x2="455.34" y2="276.11" stroke="#111111" stroke-width="1.05" />
<line x1="280.00" y1="308.59" x2="280.00" y2="307.04" stroke="#f4381f" stroke-width="1.05" />
<line x1="277.70" y1="308.59" x2="282.30" y2="308.59" stroke="#f4381f" stroke-width="1.05" />
<line x1="277.70" y1="307.04" x2="282.30" y2="307.04" stroke="#f4381f" stroke-width="1.05" />
<line x1="294.42" y1="308.59" x2="294.42" y2="307.04" stroke="#f4381f" stroke-width="1.05" />
<line x1="292.12" y1="308.59" x2="296.72" y2="308.59" stroke="#f4381f" stroke-width="1.05" />
<line x1="292.12" y1="307.04" x2="296.72" y2="307.04" stroke="#f4381f" stroke-width="1.05" />
<line x1="308.84" y1="308.59" x2="308.84" y2="305.49" stroke="#f4381f" stroke-width="1.05" />
<line x1="306.54" y1="308.59" x2="311.14" y2="308.59" stroke="#f4381f" stroke-width="1.05" />
<line x1="306.54" y1="305.49" x2="311.14" y2="305.49" stroke="#f4381f" stroke-width="1.05" />
<line x1="323.26" y1="306.27" x2="323.26" y2="296.99" stroke="#f4381f" stroke-width="1.05" />
<line x1="320.96" y1="306.27" x2="325.56" y2="306.27" stroke="#f4381f" stroke-width="1.05" />
<line x1="320.96" y1="296.99" x2="325.56" y2="296.99" stroke="#f4381f" stroke-width="1.05" />
<line x1="337.68" y1="299.31" x2="337.68" y2="280.75" stroke="#f4381f" stroke-width="1.05" />
<line x1="335.38" y1="299.31" x2="339.98" y2="299.31" stroke="#f4381f" stroke-width="1.05" />
<line x1="335.38" y1="280.75" x2="339.98" y2="280.75" stroke="#f4381f" stroke-width="1.05" />
<line x1="352.10" y1="299.31" x2="352.10" y2="290.03" stroke="#f4381f" stroke-width="1.05" />
<line x1="349.80" y1="299.31" x2="354.40" y2="299.31" stroke="#f4381f" stroke-width="1.05" />
<line x1="349.80" y1="290.03" x2="354.40" y2="290.03" stroke="#f4381f" stroke-width="1.05" />
<line x1="366.52" y1="296.21" x2="366.52" y2="280.75" stroke="#f4381f" stroke-width="1.05" />
<line x1="364.22" y1="296.21" x2="368.82" y2="296.21" stroke="#f4381f" stroke-width="1.05" />
<line x1="364.22" y1="280.75" x2="368.82" y2="280.75" stroke="#f4381f" stroke-width="1.05" />
<line x1="380.94" y1="281.52" x2="380.94" y2="262.96" stroke="#f4381f" stroke-width="1.05" />
<line x1="378.64" y1="281.52" x2="383.24" y2="281.52" stroke="#f4381f" stroke-width="1.05" />
<line x1="378.64" y1="262.96" x2="383.24" y2="262.96" stroke="#f4381f" stroke-width="1.05" />
<line x1="395.36" y1="286.16" x2="395.36" y2="262.96" stroke="#f4381f" stroke-width="1.05" />
<line x1="393.06" y1="286.16" x2="397.66" y2="286.16" stroke="#f4381f" stroke-width="1.05" />
<line x1="393.06" y1="262.96" x2="397.66" y2="262.96" stroke="#f4381f" stroke-width="1.05" />
<line x1="409.78" y1="273.79" x2="409.78" y2="245.95" stroke="#f4381f" stroke-width="1.05" />
<line x1="407.48" y1="273.79" x2="412.08" y2="273.79" stroke="#f4381f" stroke-width="1.05" />
<line x1="407.48" y1="245.95" x2="412.08" y2="245.95" stroke="#f4381f" stroke-width="1.05" />
<line x1="424.20" y1="265.28" x2="424.20" y2="243.63" stroke="#f4381f" stroke-width="1.05" />
<line x1="421.90" y1="265.28" x2="426.50" y2="265.28" stroke="#f4381f" stroke-width="1.05" />
<line x1="421.90" y1="243.63" x2="426.50" y2="243.63" stroke="#f4381f" stroke-width="1.05" />
<line x1="438.62" y1="256.78" x2="438.62" y2="236.67" stroke="#f4381f" stroke-width="1.05" />
<line x1="436.32" y1="256.78" x2="440.92" y2="256.78" stroke="#f4381f" stroke-width="1.05" />
<line x1="436.32" y1="236.67" x2="440.92" y2="236.67" stroke="#f4381f" stroke-width="1.05" />
<line x1="453.04" y1="262.19" x2="453.04" y2="238.99" stroke="#f4381f" stroke-width="1.05" />
<line x1="450.74" y1="262.19" x2="455.34" y2="262.19" stroke="#f4381f" stroke-width="1.05" />
<line x1="450.74" y1="238.99" x2="455.34" y2="238.99" stroke="#f4381f" stroke-width="1.05" />
<circle cx="280.00" cy="307.81" r="2.0" fill="#111111" />
<circle cx="294.42" cy="307.81" r="2.0" fill="#111111" />
<circle cx="308.84" cy="303.95" r="2.0" fill="#111111" />
<circle cx="323.26" cy="303.95" r="2.0" fill="#111111" />
<circle cx="337.68" cy="302.40" r="2.0" fill="#111111" />
<circle cx="352.10" cy="299.31" r="2.0" fill="#111111" />
<circle cx="366.52" cy="297.76" r="2.0" fill="#111111" />
<circle cx="380.94" cy="296.21" r="2.0" fill="#111111" />
<circle cx="395.36" cy="295.44" r="2.0" fill="#111111" />
<circle cx="409.78" cy="291.57" r="2.0" fill="#111111" />
<circle cx="424.20" cy="289.25" r="2.0" fill="#111111" />
<circle cx="438.62" cy="276.88" r="2.0" fill="#111111" />
<circle cx="453.04" cy="283.84" r="2.0" fill="#111111" />
<circle cx="280.00" cy="307.81" r="2.0" fill="#f4381f" />
<circle cx="294.42" cy="307.81" r="2.0" fill="#f4381f" />
<circle cx="308.84" cy="307.04" r="2.0" fill="#f4381f" />
<circle cx="323.26" cy="301.63" r="2.0" fill="#f4381f" />
<circle cx="337.68" cy="290.03" r="2.0" fill="#f4381f" />
<circle cx="352.10" cy="294.67" r="2.0" fill="#f4381f" />
<circle cx="366.52" cy="288.48" r="2.0" fill="#f4381f" />
<circle cx="380.94" cy="272.24" r="2.0" fill="#f4381f" />
<circle cx="395.36" cy="274.56" r="2.0" fill="#f4381f" />
<circle cx="409.78" cy="259.87" r="2.0" fill="#f4381f" />
<circle cx="424.20" cy="254.46" r="2.0" fill="#f4381f" />
<circle cx="438.62" cy="246.72" r="2.0" fill="#f4381f" />
<circle cx="453.04" cy="250.59" r="2.0" fill="#f4381f" />
<line x1="269.80" y1="197.60" x2="269.80" y2="314.70" stroke="#111111" stroke-width="1.4" />
<line x1="267.50" y1="314.00" x2="269.80" y2="314.00" stroke="#111111" stroke-width="1" />
<text x="266.60" y="316.40" font-size="6.9" text-anchor="end" fill="#111111" >0.00</text>
<line x1="267.50" y1="275.33" x2="269.80" y2="275.33" stroke="#111111" stroke-width="1" />
<text x="266.60" y="277.73" font-size="6.9" text-anchor="end" fill="#111111" >0.05</text>
<line x1="267.50" y1="236.67" x2="269.80" y2="236.67" stroke="#111111" stroke-width="1" />
<text x="266.60" y="239.07" font-size="6.9" text-anchor="end" fill="#111111" >0.10</text>
<line x1="267.50" y1="198.00" x2="269.80" y2="198.00" stroke="#111111" stroke-width="1" />
<text x="266.60" y="200.41" font-size="6.9" text-anchor="end" fill="#111111" >0.15</text>
<line x1="269.10" y1="314.00" x2="462.70" y2="314.00" stroke="#111111" stroke-width="1.5" />
<line x1="280.00" y1="314.00" x2="280.00" y2="316.40" stroke="#111111" stroke-width="1" />
<line x1="294.42" y1="314.00" x2="294.42" y2="316.40" stroke="#111111" stroke-width="1" />
<line x1="308.84" y1="314.00" x2="308.84" y2="316.40" stroke="#111111" stroke-width="1" />
<line x1="323.26" y1="314.00" x2="323.26" y2="316.40" stroke="#111111" stroke-width="1" />
<line x1="337.68" y1="314.00" x2="337.68" y2="316.40" stroke="#111111" stroke-width="1" />
<line x1="352.10" y1="314.00" x2="352.10" y2="316.40" stroke="#111111" stroke-width="1" />
<line x1="366.52" y1="314.00" x2="366.52" y2="316.40" stroke="#111111" stroke-width="1" />
<line x1="380.94" y1="314.00" x2="380.94" y2="316.40" stroke="#111111" stroke-width="1" />
<line x1="395.36" y1="314.00" x2="395.36" y2="316.40" stroke="#111111" stroke-width="1" />
<line x1="409.78" y1="314.00" x2="409.78" y2="316.40" stroke="#111111" stroke-width="1" />
<line x1="424.20" y1="314.00" x2="424.20" y2="316.40" stroke="#111111" stroke-width="1" />
<line x1="438.62" y1="314.00" x2="438.62" y2="316.40" stroke="#111111" stroke-width="1" />
<line x1="453.04" y1="314.00" x2="453.04" y2="316.40" stroke="#111111" stroke-width="1" />
<line x1="278.40" y1="201.50" x2="289.20" y2="201.50" stroke="#111111" stroke-width="1.1" />
<circle cx="283.80" cy="201.50" r="2.0" fill="#111111" />
<text x="291.60" y="203.40" font-size="6.8" text-anchor="start" fill="#111111" >Sham</text>
<line x1="278.40" y1="214.80" x2="289.20" y2="214.80" stroke="#f4381f" stroke-width="1.1" />
<circle cx="283.80" cy="214.80" r="2.0" fill="#f4381f" />
<text x="291.60" y="216.70" font-size="6.8" text-anchor="start" fill="#111111" >SCI</text>
<text x="281.50" y="319.40" font-size="6.7" text-anchor="end" fill="#111111" transform="rotate(-45 281.50 319.40)" dominant-baseline="central">3</text>
<text x="295.92" y="319.40" font-size="6.7" text-anchor="end" fill="#111111" transform="rotate(-45 295.92 319.40)" dominant-baseline="central">4</text>
<text x="310.34" y="319.40" font-size="6.7" text-anchor="end" fill="#111111" transform="rotate(-45 310.34 319.40)" dominant-baseline="central">5</text>
<text x="324.76" y="319.40" font-size="6.7" text-anchor="end" fill="#111111" transform="rotate(-45 324.76 319.40)" dominant-baseline="central">6</text>
<text x="339.18" y="319.40" font-size="6.7" text-anchor="end" fill="#111111" transform="rotate(-45 339.18 319.40)" dominant-baseline="central">7</text>
<text x="353.60" y="319.40" font-size="6.7" text-anchor="end" fill="#111111" transform="rotate(-45 353.60 319.40)" dominant-baseline="central">8</text>
<text x="368.02" y="319.40" font-size="6.7" text-anchor="end" fill="#111111" transform="rotate(-45 368.02 319.40)" dominant-baseline="central">9</text>
<text x="382.44" y="319.40" font-size="6.7" text-anchor="end" fill="#111111" transform="rotate(-45 382.44 319.40)" dominant-baseline="central">10</text>
<text x="396.86" y="319.40" font-size="6.7" text-anchor="end" fill="#111111" transform="rotate(-45 396.86 319.40)" dominant-baseline="central">11</text>
<text x="411.28" y="319.40" font-size="6.7" text-anchor="end" fill="#111111" transform="rotate(-45 411.28 319.40)" dominant-baseline="central">12</text>
<text x="425.70" y="319.40" font-size="6.7" text-anchor="end" fill="#111111" transform="rotate(-45 425.70 319.40)" dominant-baseline="central">13</text>
<text x="440.12" y="319.40" font-size="6.7" text-anchor="end" fill="#111111" transform="rotate(-45 440.12 319.40)" dominant-baseline="central">14</text>
<text x="454.54" y="319.40" font-size="6.7" text-anchor="end" fill="#111111" transform="rotate(-45 454.54 319.40)" dominant-baseline="central">15</text>
<text x="371.50" y="341.40" font-size="9.3" text-anchor="middle" fill="#111111" textLength="92" lengthAdjust="spacing" >Stimulus Intensity (mA)</text>
<text x="366.00" y="180.40" font-size="11.4" text-anchor="middle" fill="#111111" font-weight="bold" textLength="51.7" lengthAdjust="spacing" >MEP AUC</text>
<text x="340.10" y="190.70" font-size="6.9" text-anchor="start" fill="#111111" font-weight="bold" textLength="36.8" lengthAdjust="spacing" >Interaction:</text>
<path d="M381.50,186.40L381.50,190.40M379.77,187.40L383.23,189.40M379.77,189.40L383.23,187.40" stroke="#555" stroke-width="0.85" fill="none"/>
<path d="M386.10,186.40L386.10,190.40M384.37,187.40L387.83,189.40M384.37,189.40L387.83,187.40" stroke="#555" stroke-width="0.85" fill="none"/>
<path d="M390.70,186.40L390.70,190.40M388.97,187.40L392.43,189.40M388.97,189.40L392.43,187.40" stroke="#555" stroke-width="0.85" fill="none"/>
<text x="246.00" y="254.00" font-size="9.1" text-anchor="middle" fill="#111111" textLength="62" lengthAdjust="spacing" transform="rotate(-90 246.00 254.00)" ><tspan font-size="1.2em">√</tspan>AUC (mV.s<tspan font-size="5" dy="-3.2">1/2</tspan><tspan dy="3.2">)</tspan></text>
<circle cx="520.00" cy="305.82" r="1.15" fill="#8c8c8c" />
<circle cx="523.00" cy="307.84" r="1.15" fill="#8c8c8c" />
<circle cx="526.00" cy="309.57" r="1.15" fill="#8c8c8c" />
<circle cx="524.00" cy="306.40" r="1.15" fill="#8c8c8c" />
<circle cx="558.38" cy="283.36" r="1.15" fill="#8c8c8c" />
<circle cx="558.38" cy="285.95" r="1.15" fill="#8c8c8c" />
<circle cx="558.38" cy="291.14" r="1.15" fill="#8c8c8c" />
<circle cx="553.38" cy="305.54" r="1.15" fill="#8c8c8c" />
<circle cx="558.38" cy="305.54" r="1.15" fill="#8c8c8c" />
<circle cx="563.38" cy="305.54" r="1.15" fill="#8c8c8c" />
<circle cx="592.76" cy="284.80" r="1.15" fill="#8c8c8c" />
<circle cx="588.76" cy="304.38" r="1.15" fill="#8c8c8c" />
<circle cx="592.76" cy="304.38" r="1.15" fill="#8c8c8c" />
<circle cx="596.76" cy="304.38" r="1.15" fill="#8c8c8c" />
<circle cx="627.14" cy="300.35" r="1.15" fill="#8c8c8c" />
<circle cx="627.14" cy="304.96" r="1.15" fill="#8c8c8c" />
<circle cx="631.14" cy="304.96" r="1.15" fill="#8c8c8c" />
<circle cx="661.52" cy="301.79" r="1.15" fill="#8c8c8c" />
<circle cx="658.52" cy="304.96" r="1.15" fill="#8c8c8c" />
<circle cx="664.52" cy="304.96" r="1.15" fill="#8c8c8c" />
<circle cx="524.00" cy="281.92" r="1.15" fill="#f89c8c" />
<circle cx="524.00" cy="294.59" r="1.15" fill="#f89c8c" />
<circle cx="524.00" cy="297.76" r="1.15" fill="#f89c8c" />
<circle cx="519.00" cy="309.57" r="1.15" fill="#f89c8c" />
<circle cx="529.00" cy="309.57" r="1.15" fill="#f89c8c" />
<circle cx="558.38" cy="252.54" r="1.15" fill="#f89c8c" />
<circle cx="558.38" cy="262.34" r="1.15" fill="#f89c8c" />
<circle cx="556.38" cy="284.80" r="1.15" fill="#f89c8c" />
<circle cx="592.76" cy="225.47" r="1.15" fill="#f89c8c" />
<circle cx="595.76" cy="275.30" r="1.15" fill="#f89c8c" />
<circle cx="592.76" cy="276.74" r="1.15" fill="#f89c8c" />
<circle cx="627.14" cy="239.58" r="1.15" fill="#f89c8c" />
<circle cx="627.14" cy="249.09" r="1.15" fill="#f89c8c" />
<circle cx="627.14" cy="251.68" r="1.15" fill="#f89c8c" />
<circle cx="623.14" cy="304.96" r="1.15" fill="#f89c8c" />
<circle cx="661.52" cy="211.65" r="1.15" fill="#f89c8c" />
<circle cx="661.52" cy="215.10" r="1.15" fill="#f89c8c" />
<circle cx="661.52" cy="254.27" r="1.15" fill="#f89c8c" />
<circle cx="661.52" cy="276.16" r="1.15" fill="#f89c8c" />
<polyline points="524.00,303.52 558.38,299.20 592.76,294.02 627.14,286.82 661.52,290.27" fill="none" stroke="#111111" stroke-width="1.0" stroke-linejoin="round" />
<polyline points="524.00,299.78 558.38,277.89 592.76,260.61 627.14,266.08 661.52,241.60" fill="none" stroke="#f4381f" stroke-width="1.0" stroke-linejoin="round" />
<line x1="524.00" y1="305.82" x2="524.00" y2="301.22" stroke="#111111" stroke-width="1.05" />
<line x1="521.70" y1="305.82" x2="526.30" y2="305.82" stroke="#111111" stroke-width="1.05" />
<line x1="521.70" y1="301.22" x2="526.30" y2="301.22" stroke="#111111" stroke-width="1.05" />
<line x1="558.38" y1="302.66" x2="558.38" y2="295.74" stroke="#111111" stroke-width="1.05" />
<line x1="556.08" y1="302.66" x2="560.68" y2="302.66" stroke="#111111" stroke-width="1.05" />
<line x1="556.08" y1="295.74" x2="560.68" y2="295.74" stroke="#111111" stroke-width="1.05" />
<line x1="592.76" y1="301.22" x2="592.76" y2="286.82" stroke="#111111" stroke-width="1.05" />
<line x1="590.46" y1="301.22" x2="595.06" y2="301.22" stroke="#111111" stroke-width="1.05" />
<line x1="590.46" y1="286.82" x2="595.06" y2="286.82" stroke="#111111" stroke-width="1.05" />
<line x1="627.14" y1="295.46" x2="627.14" y2="278.18" stroke="#111111" stroke-width="1.05" />
<line x1="624.84" y1="295.46" x2="629.44" y2="295.46" stroke="#111111" stroke-width="1.05" />
<line x1="624.84" y1="278.18" x2="629.44" y2="278.18" stroke="#111111" stroke-width="1.05" />
<line x1="661.52" y1="298.34" x2="661.52" y2="282.21" stroke="#111111" stroke-width="1.05" />
<line x1="659.22" y1="298.34" x2="663.82" y2="298.34" stroke="#111111" stroke-width="1.05" />
<line x1="659.22" y1="282.21" x2="663.82" y2="282.21" stroke="#111111" stroke-width="1.05" />
<line x1="524.00" y1="304.10" x2="524.00" y2="295.46" stroke="#f4381f" stroke-width="1.05" />
<line x1="521.70" y1="304.10" x2="526.30" y2="304.10" stroke="#f4381f" stroke-width="1.05" />
<line x1="521.70" y1="295.46" x2="526.30" y2="295.46" stroke="#f4381f" stroke-width="1.05" />
<line x1="558.38" y1="286.53" x2="558.38" y2="269.25" stroke="#f4381f" stroke-width="1.05" />
<line x1="556.08" y1="286.53" x2="560.68" y2="286.53" stroke="#f4381f" stroke-width="1.05" />
<line x1="556.08" y1="269.25" x2="560.68" y2="269.25" stroke="#f4381f" stroke-width="1.05" />
<line x1="592.76" y1="270.11" x2="592.76" y2="251.10" stroke="#f4381f" stroke-width="1.05" />
<line x1="590.46" y1="270.11" x2="595.06" y2="270.11" stroke="#f4381f" stroke-width="1.05" />
<line x1="590.46" y1="251.10" x2="595.06" y2="251.10" stroke="#f4381f" stroke-width="1.05" />
<line x1="627.14" y1="277.60" x2="627.14" y2="254.56" stroke="#f4381f" stroke-width="1.05" />
<line x1="624.84" y1="277.60" x2="629.44" y2="277.60" stroke="#f4381f" stroke-width="1.05" />
<line x1="624.84" y1="254.56" x2="629.44" y2="254.56" stroke="#f4381f" stroke-width="1.05" />
<line x1="661.52" y1="253.70" x2="661.52" y2="229.50" stroke="#f4381f" stroke-width="1.05" />
<line x1="659.22" y1="253.70" x2="663.82" y2="253.70" stroke="#f4381f" stroke-width="1.05" />
<line x1="659.22" y1="229.50" x2="663.82" y2="229.50" stroke="#f4381f" stroke-width="1.05" />
<circle cx="524.00" cy="303.52" r="2.0" fill="#111111" />
<circle cx="558.38" cy="299.20" r="2.0" fill="#111111" />
<circle cx="592.76" cy="294.02" r="2.0" fill="#111111" />
<circle cx="627.14" cy="286.82" r="2.0" fill="#111111" />
<circle cx="661.52" cy="290.27" r="2.0" fill="#111111" />
<circle cx="524.00" cy="299.78" r="2.0" fill="#f4381f" />
<circle cx="558.38" cy="277.89" r="2.0" fill="#f4381f" />
<circle cx="592.76" cy="260.61" r="2.0" fill="#f4381f" />
<circle cx="627.14" cy="266.08" r="2.0" fill="#f4381f" />
<circle cx="661.52" cy="241.60" r="2.0" fill="#f4381f" />
<line x1="499.70" y1="198.00" x2="499.70" y2="314.30" stroke="#111111" stroke-width="1.4" />
<line x1="497.40" y1="313.60" x2="499.70" y2="313.60" stroke="#111111" stroke-width="1" />
<text x="496.50" y="316.00" font-size="6.9" text-anchor="end" fill="#111111" >0</text>
<line x1="497.40" y1="284.80" x2="499.70" y2="284.80" stroke="#111111" stroke-width="1" />
<text x="496.50" y="287.20" font-size="6.9" text-anchor="end" fill="#111111" >1</text>
<line x1="497.40" y1="256.00" x2="499.70" y2="256.00" stroke="#111111" stroke-width="1" />
<text x="496.50" y="258.40" font-size="6.9" text-anchor="end" fill="#111111" >2</text>
<line x1="497.40" y1="227.20" x2="499.70" y2="227.20" stroke="#111111" stroke-width="1" />
<text x="496.50" y="229.60" font-size="6.9" text-anchor="end" fill="#111111" >3</text>
<line x1="497.40" y1="198.40" x2="499.70" y2="198.40" stroke="#111111" stroke-width="1" />
<text x="496.50" y="200.80" font-size="6.9" text-anchor="end" fill="#111111" >4</text>
<line x1="499.00" y1="313.60" x2="685.00" y2="313.60" stroke="#111111" stroke-width="1.5" />
<line x1="524.00" y1="313.60" x2="524.00" y2="316.00" stroke="#111111" stroke-width="1" />
<line x1="558.38" y1="313.60" x2="558.38" y2="316.00" stroke="#111111" stroke-width="1" />
<line x1="592.76" y1="313.60" x2="592.76" y2="316.00" stroke="#111111" stroke-width="1" />
<line x1="627.14" y1="313.60" x2="627.14" y2="316.00" stroke="#111111" stroke-width="1" />
<line x1="661.52" y1="313.60" x2="661.52" y2="316.00" stroke="#111111" stroke-width="1" />
<line x1="508.70" y1="204.30" x2="519.50" y2="204.30" stroke="#111111" stroke-width="1.1" />
<circle cx="514.10" cy="204.30" r="2.0" fill="#111111" />
<text x="521.90" y="206.20" font-size="6.8" text-anchor="start" fill="#111111" >Sham</text>
<line x1="508.70" y1="213.90" x2="519.50" y2="213.90" stroke="#f4381f" stroke-width="1.1" />
<circle cx="514.10" cy="213.90" r="2.0" fill="#f4381f" />
<text x="521.90" y="215.80" font-size="6.8" text-anchor="start" fill="#111111" >SCI</text>
<text x="525.50" y="318.70" font-size="7.1" text-anchor="end" fill="#111111" transform="rotate(-45 525.50 318.70)" dominant-baseline="central">0.1</text>
<text x="559.88" y="318.70" font-size="7.1" text-anchor="end" fill="#111111" transform="rotate(-45 559.88 318.70)" dominant-baseline="central">0.2</text>
<text x="594.26" y="318.70" font-size="7.1" text-anchor="end" fill="#111111" transform="rotate(-45 594.26 318.70)" dominant-baseline="central">0.3</text>
<text x="628.64" y="318.70" font-size="7.1" text-anchor="end" fill="#111111" transform="rotate(-45 628.64 318.70)" dominant-baseline="central">0.4</text>
<text x="663.02" y="318.70" font-size="7.1" text-anchor="end" fill="#111111" transform="rotate(-45 663.02 318.70)" dominant-baseline="central">0.5</text>
<text x="596.30" y="341.40" font-size="9.3" text-anchor="middle" fill="#111111" textLength="85.5" lengthAdjust="spacing" >Stimulus Length (ms)</text>
<text x="591.90" y="179.30" font-size="11.4" text-anchor="middle" fill="#111111" font-weight="bold" textLength="62" lengthAdjust="spacing" >MEP Range</text>
<text x="567.00" y="189.50" font-size="6.9" text-anchor="start" fill="#111111" font-weight="bold" textLength="36.8" lengthAdjust="spacing" >Interaction:</text>
<path d="M608.40,185.20L608.40,189.20M606.67,186.20L610.13,188.20M606.67,188.20L610.13,186.20" stroke="#555" stroke-width="0.85" fill="none"/>
<path d="M613.00,185.20L613.00,189.20M611.27,186.20L614.73,188.20M611.27,188.20L614.73,186.20" stroke="#555" stroke-width="0.85" fill="none"/>
<text x="486.30" y="254.00" font-size="9.1" text-anchor="middle" fill="#111111" textLength="109.5" lengthAdjust="spacing" transform="rotate(-90 486.30 254.00)" ><tspan font-size="1.2em">√</tspan>Peak to peak amp. (mV<tspan font-size="5" dy="-3.2">1/2</tspan><tspan dy="3.2">)</tspan></text>
<path d="M668.9,241.5 L671.5,241.5 L671.5,290.5 L668.9,290.5" fill="none" stroke="#222" stroke-width="1"/>
<path d="M675.50,266.00L675.50,269.80M673.85,266.95L677.15,268.85M673.85,268.85L677.15,266.95" stroke="#444" stroke-width="0.85" fill="none"/>
<circle cx="49.00" cy="494.86" r="1.15" fill="#8c8c8c" />
<circle cx="52.00" cy="494.86" r="1.15" fill="#8c8c8c" />
<circle cx="55.00" cy="491.33" r="1.15" fill="#8c8c8c" />
<circle cx="87.50" cy="493.56" r="1.15" fill="#8c8c8c" />
<circle cx="94.50" cy="493.56" r="1.15" fill="#8c8c8c" />
<circle cx="98.50" cy="493.56" r="1.15" fill="#8c8c8c" />
<circle cx="92.50" cy="487.50" r="1.15" fill="#8c8c8c" />
<circle cx="123.00" cy="492.25" r="1.15" fill="#8c8c8c" />
<circle cx="127.00" cy="492.25" r="1.15" fill="#8c8c8c" />
<circle cx="131.00" cy="492.25" r="1.15" fill="#8c8c8c" />
<circle cx="127.00" cy="479.83" r="1.15" fill="#8c8c8c" />
<circle cx="161.50" cy="449.16" r="1.15" fill="#8c8c8c" />
<circle cx="158.50" cy="492.25" r="1.15" fill="#8c8c8c" />
<circle cx="162.50" cy="492.25" r="1.15" fill="#8c8c8c" />
<circle cx="166.50" cy="492.25" r="1.15" fill="#8c8c8c" />
<circle cx="161.50" cy="476.00" r="1.15" fill="#8c8c8c" />
<circle cx="194.00" cy="491.33" r="1.15" fill="#8c8c8c" />
<circle cx="198.00" cy="491.33" r="1.15" fill="#8c8c8c" />
<circle cx="196.00" cy="483.67" r="1.15" fill="#8c8c8c" />
<circle cx="58.00" cy="484.43" r="1.15" fill="#f89c8c" />
<circle cx="63.00" cy="494.86" r="1.15" fill="#f89c8c" />
<circle cx="67.00" cy="494.86" r="1.15" fill="#f89c8c" />
<circle cx="92.50" cy="452.46" r="1.15" fill="#f89c8c" />
<circle cx="92.50" cy="463.73" r="1.15" fill="#f89c8c" />
<circle cx="92.50" cy="471.40" r="1.15" fill="#f89c8c" />
<circle cx="96.50" cy="493.56" r="1.15" fill="#f89c8c" />
<circle cx="127.00" cy="427.70" r="1.15" fill="#f89c8c" />
<circle cx="127.00" cy="456.83" r="1.15" fill="#f89c8c" />
<circle cx="127.00" cy="469.86" r="1.15" fill="#f89c8c" />
<circle cx="161.50" cy="442.26" r="1.15" fill="#f89c8c" />
<circle cx="161.50" cy="458.36" r="1.15" fill="#f89c8c" />
<circle cx="156.50" cy="493.56" r="1.15" fill="#f89c8c" />
<circle cx="194.00" cy="415.43" r="1.15" fill="#f89c8c" />
<circle cx="198.00" cy="415.43" r="1.15" fill="#f89c8c" />
<circle cx="196.00" cy="441.50" r="1.15" fill="#f89c8c" />
<circle cx="196.00" cy="469.86" r="1.15" fill="#f89c8c" />
<circle cx="196.00" cy="473.70" r="1.15" fill="#f89c8c" />
<polyline points="58.00,493.02 92.50,489.03 127.00,484.43 161.50,480.98 196.00,483.67" fill="none" stroke="#111111" stroke-width="1.0" stroke-linejoin="round" />
<polyline points="58.00,492.10 92.50,475.46 127.00,463.96 161.50,464.50 196.00,445.33" fill="none" stroke="#f4381f" stroke-width="1.0" stroke-linejoin="round" />
<line x1="58.00" y1="496.09" x2="58.00" y2="489.95" stroke="#111111" stroke-width="1.05" />
<line x1="55.70" y1="496.09" x2="60.30" y2="496.09" stroke="#111111" stroke-width="1.05" />
<line x1="55.70" y1="489.95" x2="60.30" y2="489.95" stroke="#111111" stroke-width="1.05" />
<line x1="92.50" y1="492.10" x2="92.50" y2="485.97" stroke="#111111" stroke-width="1.05" />
<line x1="90.20" y1="492.10" x2="94.80" y2="492.10" stroke="#111111" stroke-width="1.05" />
<line x1="90.20" y1="485.97" x2="94.80" y2="485.97" stroke="#111111" stroke-width="1.05" />
<line x1="127.00" y1="489.80" x2="127.00" y2="479.07" stroke="#111111" stroke-width="1.05" />
<line x1="124.70" y1="489.80" x2="129.30" y2="489.80" stroke="#111111" stroke-width="1.05" />
<line x1="124.70" y1="479.07" x2="129.30" y2="479.07" stroke="#111111" stroke-width="1.05" />
<line x1="161.50" y1="487.88" x2="161.50" y2="474.08" stroke="#111111" stroke-width="1.05" />
<line x1="159.20" y1="487.88" x2="163.80" y2="487.88" stroke="#111111" stroke-width="1.05" />
<line x1="159.20" y1="474.08" x2="163.80" y2="474.08" stroke="#111111" stroke-width="1.05" />
<line x1="196.00" y1="489.03" x2="196.00" y2="478.30" stroke="#111111" stroke-width="1.05" />
<line x1="193.70" y1="489.03" x2="198.30" y2="489.03" stroke="#111111" stroke-width="1.05" />
<line x1="193.70" y1="478.30" x2="198.30" y2="478.30" stroke="#111111" stroke-width="1.05" />
<line x1="58.00" y1="494.40" x2="58.00" y2="489.80" stroke="#f4381f" stroke-width="1.05" />
<line x1="55.70" y1="494.40" x2="60.30" y2="494.40" stroke="#f4381f" stroke-width="1.05" />
<line x1="55.70" y1="489.80" x2="60.30" y2="489.80" stroke="#f4381f" stroke-width="1.05" />
<line x1="92.50" y1="483.13" x2="92.50" y2="467.79" stroke="#f4381f" stroke-width="1.05" />
<line x1="90.20" y1="483.13" x2="94.80" y2="483.13" stroke="#f4381f" stroke-width="1.05" />
<line x1="90.20" y1="467.79" x2="94.80" y2="467.79" stroke="#f4381f" stroke-width="1.05" />
<line x1="127.00" y1="473.93" x2="127.00" y2="453.99" stroke="#f4381f" stroke-width="1.05" />
<line x1="124.70" y1="473.93" x2="129.30" y2="473.93" stroke="#f4381f" stroke-width="1.05" />
<line x1="124.70" y1="453.99" x2="129.30" y2="453.99" stroke="#f4381f" stroke-width="1.05" />
<line x1="161.50" y1="473.70" x2="161.50" y2="455.30" stroke="#f4381f" stroke-width="1.05" />
<line x1="159.20" y1="473.70" x2="163.80" y2="473.70" stroke="#f4381f" stroke-width="1.05" />
<line x1="159.20" y1="455.30" x2="163.80" y2="455.30" stroke="#f4381f" stroke-width="1.05" />
<line x1="196.00" y1="458.36" x2="196.00" y2="432.30" stroke="#f4381f" stroke-width="1.05" />
<line x1="193.70" y1="458.36" x2="198.30" y2="458.36" stroke="#f4381f" stroke-width="1.05" />
<line x1="193.70" y1="432.30" x2="198.30" y2="432.30" stroke="#f4381f" stroke-width="1.05" />
<circle cx="58.00" cy="493.02" r="2.0" fill="#111111" />
<circle cx="92.50" cy="489.03" r="2.0" fill="#111111" />
<circle cx="127.00" cy="484.43" r="2.0" fill="#111111" />
<circle cx="161.50" cy="480.98" r="2.0" fill="#111111" />
<circle cx="196.00" cy="483.67" r="2.0" fill="#111111" />
<circle cx="58.00" cy="492.10" r="2.0" fill="#f4381f" />
<circle cx="92.50" cy="475.46" r="2.0" fill="#f4381f" />
<circle cx="127.00" cy="463.96" r="2.0" fill="#f4381f" />
<circle cx="161.50" cy="464.50" r="2.0" fill="#f4381f" />
<circle cx="196.00" cy="445.33" r="2.0" fill="#f4381f" />
<line x1="34.00" y1="395.10" x2="34.00" y2="511.20" stroke="#111111" stroke-width="1.4" />
<line x1="31.70" y1="510.50" x2="34.00" y2="510.50" stroke="#111111" stroke-width="1" />
<text x="30.80" y="512.90" font-size="6.9" text-anchor="end" fill="#111111" >0.00</text>
<line x1="31.70" y1="472.17" x2="34.00" y2="472.17" stroke="#111111" stroke-width="1" />
<text x="30.80" y="474.56" font-size="6.9" text-anchor="end" fill="#111111" >0.05</text>
<line x1="31.70" y1="433.83" x2="34.00" y2="433.83" stroke="#111111" stroke-width="1" />
<text x="30.80" y="436.23" font-size="6.9" text-anchor="end" fill="#111111" >0.10</text>
<line x1="31.70" y1="395.50" x2="34.00" y2="395.50" stroke="#111111" stroke-width="1" />
<text x="30.80" y="397.89" font-size="6.9" text-anchor="end" fill="#111111" >0.15</text>
<line x1="33.30" y1="510.50" x2="219.50" y2="510.50" stroke="#111111" stroke-width="1.5" />
<line x1="58.00" y1="510.50" x2="58.00" y2="512.90" stroke="#111111" stroke-width="1" />
<line x1="92.50" y1="510.50" x2="92.50" y2="512.90" stroke="#111111" stroke-width="1" />
<line x1="127.00" y1="510.50" x2="127.00" y2="512.90" stroke="#111111" stroke-width="1" />
<line x1="161.50" y1="510.50" x2="161.50" y2="512.90" stroke="#111111" stroke-width="1" />
<line x1="196.00" y1="510.50" x2="196.00" y2="512.90" stroke="#111111" stroke-width="1" />
<line x1="41.00" y1="399.00" x2="51.80" y2="399.00" stroke="#111111" stroke-width="1.1" />
<circle cx="46.40" cy="399.00" r="2.0" fill="#111111" />
<text x="54.20" y="400.90" font-size="6.8" text-anchor="start" fill="#111111" >Sham</text>
<line x1="41.00" y1="412.50" x2="51.80" y2="412.50" stroke="#f4381f" stroke-width="1.1" />
<circle cx="46.40" cy="412.50" r="2.0" fill="#f4381f" />
<text x="54.20" y="414.40" font-size="6.8" text-anchor="start" fill="#111111" >SCI</text>
<text x="59.50" y="515.20" font-size="7.1" text-anchor="end" fill="#111111" transform="rotate(-45 59.50 515.20)" dominant-baseline="central">0.1</text>
<text x="94.00" y="515.20" font-size="7.1" text-anchor="end" fill="#111111" transform="rotate(-45 94.00 515.20)" dominant-baseline="central">0.2</text>
<text x="128.50" y="515.20" font-size="7.1" text-anchor="end" fill="#111111" transform="rotate(-45 128.50 515.20)" dominant-baseline="central">0.3</text>
<text x="163.00" y="515.20" font-size="7.1" text-anchor="end" fill="#111111" transform="rotate(-45 163.00 515.20)" dominant-baseline="central">0.4</text>
<text x="197.50" y="515.20" font-size="7.1" text-anchor="end" fill="#111111" transform="rotate(-45 197.50 515.20)" dominant-baseline="central">0.5</text>
<text x="127.00" y="537.00" font-size="9.3" text-anchor="middle" fill="#111111" textLength="85.5" lengthAdjust="spacing" >Stimulus Length (ms)</text>
<text x="125.90" y="377.75" font-size="11.4" text-anchor="middle" fill="#111111" font-weight="bold" textLength="52" lengthAdjust="spacing" >MEP AUC</text>
<text x="99.60" y="387.40" font-size="6.9" text-anchor="start" fill="#111111" font-weight="bold" textLength="37.1" lengthAdjust="spacing" >Interaction:</text>
<path d="M141.30,383.10L141.30,387.10M139.57,384.10L143.03,386.10M139.57,386.10L143.03,384.10" stroke="#555" stroke-width="0.85" fill="none"/>
<path d="M145.90,383.10L145.90,387.10M144.17,384.10L147.63,386.10M144.17,386.10L147.63,384.10" stroke="#555" stroke-width="0.85" fill="none"/>
<path d="M150.50,383.10L150.50,387.10M148.77,384.10L152.23,386.10M148.77,386.10L152.23,384.10" stroke="#555" stroke-width="0.85" fill="none"/>
<text x="13.50" y="452.00" font-size="9.1" text-anchor="middle" fill="#111111" textLength="62" lengthAdjust="spacing" transform="rotate(-90 13.50 452.00)" ><tspan font-size="1.2em">√</tspan>AUC (mV.s<tspan font-size="5" dy="-3.2">1/2</tspan><tspan dy="3.2">)</tspan></text>
<circle cx="284.00" cy="503.57" r="1.15" fill="#8c8c8c" />
<circle cx="288.00" cy="502.42" r="1.15" fill="#8c8c8c" />
<circle cx="286.00" cy="500.11" r="1.15" fill="#8c8c8c" />
<circle cx="286.00" cy="477.00" r="1.15" fill="#8c8c8c" />
<circle cx="286.00" cy="492.02" r="1.15" fill="#8c8c8c" />
<circle cx="344.00" cy="503.57" r="1.15" fill="#8c8c8c" />
<circle cx="346.50" cy="497.80" r="1.15" fill="#8c8c8c" />
<circle cx="344.00" cy="467.76" r="1.15" fill="#8c8c8c" />
<circle cx="346.50" cy="467.76" r="1.15" fill="#8c8c8c" />
<circle cx="342.00" cy="413.48" r="1.15" fill="#8c8c8c" />
<circle cx="344.00" cy="475.85" r="1.15" fill="#8c8c8c" />
<circle cx="286.00" cy="422.72" r="1.15" fill="#f89c8c" />
<circle cx="286.00" cy="431.96" r="1.15" fill="#f89c8c" />
<circle cx="286.00" cy="468.92" r="1.15" fill="#f89c8c" />
<circle cx="286.00" cy="480.47" r="1.15" fill="#f89c8c" />
<circle cx="284.00" cy="501.26" r="1.15" fill="#f89c8c" />
<circle cx="346.00" cy="411.17" r="1.15" fill="#f89c8c" />
<circle cx="344.00" cy="419.25" r="1.15" fill="#f89c8c" />
<circle cx="344.00" cy="450.44" r="1.15" fill="#f89c8c" />
<circle cx="342.00" cy="497.80" r="1.15" fill="#f89c8c" />
<circle cx="344.00" cy="480.47" r="1.15" fill="#f89c8c" />
<polyline points="286.00,491.33 344.00,472.38" fill="none" stroke="#111111" stroke-width="1.0" stroke-linejoin="round" />
<polyline points="286.00,466.61 344.00,442.36" fill="none" stroke="#f4381f" stroke-width="1.0" stroke-linejoin="round" />
<line x1="286.00" y1="497.10" x2="286.00" y2="485.55" stroke="#111111" stroke-width="1.05" />
<line x1="283.70" y1="497.10" x2="288.30" y2="497.10" stroke="#111111" stroke-width="1.05" />
<line x1="283.70" y1="485.55" x2="288.30" y2="485.55" stroke="#111111" stroke-width="1.05" />
<line x1="344.00" y1="485.55" x2="344.00" y2="459.22" stroke="#111111" stroke-width="1.05" />
<line x1="341.70" y1="485.55" x2="346.30" y2="485.55" stroke="#111111" stroke-width="1.05" />
<line x1="341.70" y1="459.22" x2="346.30" y2="459.22" stroke="#111111" stroke-width="1.05" />
<line x1="286.00" y1="479.78" x2="286.00" y2="453.44" stroke="#f4381f" stroke-width="1.05" />
<line x1="283.70" y1="479.78" x2="288.30" y2="479.78" stroke="#f4381f" stroke-width="1.05" />
<line x1="283.70" y1="453.44" x2="288.30" y2="453.44" stroke="#f4381f" stroke-width="1.05" />
<line x1="344.00" y1="454.60" x2="344.00" y2="430.11" stroke="#f4381f" stroke-width="1.05" />
<line x1="341.70" y1="454.60" x2="346.30" y2="454.60" stroke="#f4381f" stroke-width="1.05" />
<line x1="341.70" y1="430.11" x2="346.30" y2="430.11" stroke="#f4381f" stroke-width="1.05" />
<circle cx="286.00" cy="491.33" r="2.0" fill="#111111" />
<circle cx="344.00" cy="472.38" r="2.0" fill="#111111" />
<circle cx="286.00" cy="466.61" r="2.0" fill="#f4381f" />
<circle cx="344.00" cy="442.36" r="2.0" fill="#f4381f" />
<line x1="259.30" y1="394.60" x2="259.30" y2="511.20" stroke="#111111" stroke-width="1.4" />
<line x1="257.00" y1="510.50" x2="259.30" y2="510.50" stroke="#111111" stroke-width="1" />
<text x="256.10" y="512.90" font-size="6.9" text-anchor="end" fill="#111111" >0</text>
<line x1="257.00" y1="487.40" x2="259.30" y2="487.40" stroke="#111111" stroke-width="1" />
<text x="256.10" y="489.80" font-size="6.9" text-anchor="end" fill="#111111" >1</text>
<line x1="257.00" y1="464.30" x2="259.30" y2="464.30" stroke="#111111" stroke-width="1" />
<text x="256.10" y="466.70" font-size="6.9" text-anchor="end" fill="#111111" >2</text>
<line x1="257.00" y1="441.20" x2="259.30" y2="441.20" stroke="#111111" stroke-width="1" />
<text x="256.10" y="443.60" font-size="6.9" text-anchor="end" fill="#111111" >3</text>
<line x1="257.00" y1="418.10" x2="259.30" y2="418.10" stroke="#111111" stroke-width="1" />
<text x="256.10" y="420.50" font-size="6.9" text-anchor="end" fill="#111111" >4</text>
<line x1="257.00" y1="395.00" x2="259.30" y2="395.00" stroke="#111111" stroke-width="1" />
<text x="256.10" y="397.40" font-size="6.9" text-anchor="end" fill="#111111" >5</text>
<line x1="258.60" y1="510.50" x2="371.00" y2="510.50" stroke="#111111" stroke-width="1.5" />
<line x1="286.00" y1="510.50" x2="286.00" y2="512.90" stroke="#111111" stroke-width="1" />
<line x1="344.00" y1="510.50" x2="344.00" y2="512.90" stroke="#111111" stroke-width="1" />
<text x="307.30" y="377.50" font-size="11.4" text-anchor="middle" fill="#111111" font-weight="bold" textLength="110" lengthAdjust="spacing" >Synaptic Facilitation</text>
<line x1="282.10" y1="392.60" x2="290.60" y2="392.60" stroke="#111111" stroke-width="1.1" />
<circle cx="286.30" cy="392.60" r="2.0" fill="#111111" />
<text x="293.10" y="394.80" font-size="6.8" text-anchor="start" fill="#111111" >Sham</text>
<line x1="320.60" y1="392.60" x2="329.10" y2="392.60" stroke="#f4381f" stroke-width="1.1" />
<circle cx="324.80" cy="392.60" r="2.0" fill="#f4381f" />
<text x="333.00" y="394.80" font-size="6.8" text-anchor="start" fill="#111111" >SCI</text>
<path d="M285.5,408 L285.5,405.5 L343.5,405.5 L343.5,408" fill="none" stroke="#222" stroke-width="1"/>
<path d="M312.30,399.40L312.30,403.40M310.57,400.40L314.03,402.40M310.57,402.40L314.03,400.40" stroke="#444" stroke-width="0.85" fill="none"/>
<path d="M316.80,399.40L316.80,403.40M315.07,400.40L318.53,402.40M315.07,402.40L318.53,400.40" stroke="#444" stroke-width="0.85" fill="none"/>
<path d="M349.5,438.5 L352.5,438.5 L352.5,476.5 L349.5,476.5" fill="none" stroke="#222" stroke-width="1"/>
<text x="353.00" y="459.00" font-size="8.4" text-anchor="middle" fill="#111111" font-style="italic" transform="rotate(90 353.00 459.00)" >ns</text>
<text x="243.00" y="451.50" font-size="9.1" text-anchor="middle" fill="#111111" textLength="112" lengthAdjust="spacing" transform="rotate(-90 243.00 451.50)" ><tspan font-size="1.2em">√</tspan>Peak to peak amp. (mV<tspan font-size="5" dy="-3.2">1/2</tspan><tspan dy="3.2">)</tspan></text>
<text x="288.00" y="518.00" font-size="6.8" text-anchor="end" fill="#111111" transform="rotate(-45 288.00 518.00)" >Single Pulse</text>
<text x="346.00" y="518.00" font-size="6.8" text-anchor="end" fill="#111111" transform="rotate(-45 346.00 518.00)" >Paired Pulse</text>
<circle cx="417.50" cy="411.90" r="1.15" fill="#8c8c8c" />
<circle cx="415.50" cy="466.42" r="1.15" fill="#8c8c8c" />
<circle cx="415.50" cy="486.43" r="1.15" fill="#8c8c8c" />
<circle cx="417.50" cy="498.03" r="1.15" fill="#8c8c8c" />
<circle cx="415.50" cy="502.67" r="1.15" fill="#8c8c8c" />
<circle cx="428.55" cy="410.74" r="1.15" fill="#8c8c8c" />
<circle cx="428.55" cy="487.59" r="1.15" fill="#8c8c8c" />
<circle cx="428.55" cy="495.71" r="1.15" fill="#8c8c8c" />
<circle cx="428.55" cy="501.80" r="1.15" fill="#8c8c8c" />
<circle cx="441.60" cy="467.58" r="1.15" fill="#8c8c8c" />
<circle cx="441.60" cy="472.22" r="1.15" fill="#8c8c8c" />
<circle cx="438.60" cy="500.64" r="1.15" fill="#8c8c8c" />
<circle cx="441.60" cy="500.64" r="1.15" fill="#8c8c8c" />
<circle cx="444.60" cy="500.64" r="1.15" fill="#8c8c8c" />
<circle cx="454.65" cy="460.33" r="1.15" fill="#8c8c8c" />
<circle cx="452.65" cy="500.35" r="1.15" fill="#8c8c8c" />
<circle cx="456.65" cy="500.35" r="1.15" fill="#8c8c8c" />
<circle cx="467.70" cy="465.26" r="1.15" fill="#8c8c8c" />
<circle cx="467.70" cy="495.71" r="1.15" fill="#8c8c8c" />
<circle cx="465.70" cy="500.35" r="1.15" fill="#8c8c8c" />
<circle cx="469.70" cy="500.35" r="1.15" fill="#8c8c8c" />
<circle cx="482.75" cy="435.10" r="1.15" fill="#8c8c8c" />
<circle cx="480.75" cy="500.35" r="1.15" fill="#8c8c8c" />
<circle cx="482.75" cy="503.83" r="1.15" fill="#8c8c8c" />
<circle cx="493.80" cy="499.19" r="1.15" fill="#8c8c8c" />
<circle cx="493.80" cy="496.00" r="1.15" fill="#8c8c8c" />
<circle cx="504.85" cy="477.15" r="1.15" fill="#8c8c8c" />
<circle cx="506.85" cy="499.19" r="1.15" fill="#8c8c8c" />
<circle cx="506.85" cy="501.80" r="1.15" fill="#8c8c8c" />
<circle cx="506.85" cy="504.70" r="1.15" fill="#8c8c8c" />
<circle cx="519.90" cy="494.55" r="1.15" fill="#8c8c8c" />
<circle cx="519.90" cy="499.19" r="1.15" fill="#8c8c8c" />
<circle cx="532.95" cy="466.13" r="1.15" fill="#8c8c8c" />
<circle cx="532.95" cy="500.35" r="1.15" fill="#8c8c8c" />
<circle cx="530.95" cy="503.83" r="1.15" fill="#8c8c8c" />
<circle cx="534.95" cy="503.83" r="1.15" fill="#8c8c8c" />
<circle cx="546.00" cy="473.67" r="1.15" fill="#8c8c8c" />
<circle cx="544.00" cy="500.35" r="1.15" fill="#8c8c8c" />
<circle cx="548.00" cy="500.35" r="1.15" fill="#8c8c8c" />
<circle cx="559.05" cy="483.82" r="1.15" fill="#8c8c8c" />
<circle cx="559.05" cy="503.54" r="1.15" fill="#8c8c8c" />
<circle cx="559.05" cy="506.44" r="1.15" fill="#8c8c8c" />
<circle cx="570.10" cy="506.44" r="1.15" fill="#8c8c8c" />
<circle cx="574.10" cy="506.44" r="1.15" fill="#8c8c8c" />
<circle cx="587.15" cy="506.44" r="1.15" fill="#8c8c8c" />
<circle cx="598.20" cy="481.79" r="1.15" fill="#8c8c8c" />
<circle cx="598.20" cy="506.44" r="1.15" fill="#8c8c8c" />
<circle cx="613.25" cy="506.44" r="1.15" fill="#8c8c8c" />
<circle cx="626.30" cy="479.76" r="1.15" fill="#8c8c8c" />
<circle cx="624.30" cy="506.44" r="1.15" fill="#8c8c8c" />
<circle cx="639.35" cy="506.44" r="1.15" fill="#8c8c8c" />
<circle cx="652.40" cy="487.30" r="1.15" fill="#8c8c8c" />
<circle cx="650.40" cy="506.44" r="1.15" fill="#8c8c8c" />
<circle cx="665.45" cy="486.14" r="1.15" fill="#8c8c8c" />
<circle cx="665.45" cy="506.44" r="1.15" fill="#8c8c8c" />
<circle cx="413.50" cy="409.58" r="1.15" fill="#f89c8c" />
<circle cx="413.50" cy="496.87" r="1.15" fill="#f89c8c" />
<circle cx="428.55" cy="409.00" r="1.15" fill="#f89c8c" />
<circle cx="428.55" cy="500.35" r="1.15" fill="#f89c8c" />
<circle cx="441.60" cy="504.99" r="1.15" fill="#f89c8c" />
<circle cx="454.65" cy="432.78" r="1.15" fill="#f89c8c" />
<circle cx="467.70" cy="504.99" r="1.15" fill="#f89c8c" />
<circle cx="478.75" cy="436.26" r="1.15" fill="#f89c8c" />
<circle cx="480.75" cy="501.80" r="1.15" fill="#f89c8c" />
<circle cx="493.80" cy="424.95" r="1.15" fill="#f89c8c" />
<circle cx="489.80" cy="466.42" r="1.15" fill="#f89c8c" />
<circle cx="497.80" cy="466.42" r="1.15" fill="#f89c8c" />
<circle cx="493.80" cy="503.83" r="1.15" fill="#f89c8c" />
<circle cx="506.85" cy="446.12" r="1.15" fill="#f89c8c" />
<circle cx="508.85" cy="477.15" r="1.15" fill="#f89c8c" />
<circle cx="506.85" cy="504.99" r="1.15" fill="#f89c8c" />
<circle cx="519.90" cy="454.24" r="1.15" fill="#f89c8c" />
<circle cx="519.90" cy="504.99" r="1.15" fill="#f89c8c" />
<circle cx="532.95" cy="504.99" r="1.15" fill="#f89c8c" />
<circle cx="544.00" cy="501.22" r="1.15" fill="#f89c8c" />
<circle cx="548.00" cy="506.44" r="1.15" fill="#f89c8c" />
<circle cx="559.05" cy="463.52" r="1.15" fill="#f89c8c" />
<circle cx="559.05" cy="496.29" r="1.15" fill="#f89c8c" />
<circle cx="572.10" cy="464.97" r="1.15" fill="#f89c8c" />
<circle cx="569.10" cy="506.44" r="1.15" fill="#f89c8c" />
<circle cx="572.10" cy="506.44" r="1.15" fill="#f89c8c" />
<circle cx="582.15" cy="506.44" r="1.15" fill="#f89c8c" />
<circle cx="585.15" cy="506.44" r="1.15" fill="#f89c8c" />
<circle cx="588.15" cy="506.44" r="1.15" fill="#f89c8c" />
<circle cx="598.20" cy="501.22" r="1.15" fill="#f89c8c" />
<circle cx="596.20" cy="506.44" r="1.15" fill="#f89c8c" />
<circle cx="611.25" cy="464.39" r="1.15" fill="#f89c8c" />
<circle cx="608.25" cy="506.44" r="1.15" fill="#f89c8c" />
<circle cx="614.25" cy="506.44" r="1.15" fill="#f89c8c" />
<circle cx="624.30" cy="478.89" r="1.15" fill="#f89c8c" />
<circle cx="624.30" cy="499.19" r="1.15" fill="#f89c8c" />
<circle cx="624.30" cy="502.38" r="1.15" fill="#f89c8c" />
<circle cx="637.35" cy="483.53" r="1.15" fill="#f89c8c" />
<circle cx="634.35" cy="506.44" r="1.15" fill="#f89c8c" />
<circle cx="640.35" cy="506.44" r="1.15" fill="#f89c8c" />
<circle cx="650.40" cy="481.50" r="1.15" fill="#f89c8c" />
<circle cx="647.40" cy="506.44" r="1.15" fill="#f89c8c" />
<circle cx="652.40" cy="506.44" r="1.15" fill="#f89c8c" />
<circle cx="661.45" cy="486.14" r="1.15" fill="#f89c8c" />
<circle cx="660.45" cy="506.44" r="1.15" fill="#f89c8c" />
<circle cx="666.45" cy="506.44" r="1.15" fill="#f89c8c" />
<polyline points="415.50,463.52 428.55,457.43 441.60,485.56 454.65,473.96 467.70,475.12 480.75,471.64 493.80,484.11 506.85,487.01 519.90,489.62 532.95,487.01 546.00,487.01 559.05,489.62 572.10,496.00 585.15,492.52 598.20,492.52 611.25,494.55 624.30,490.49 637.35,496.58 650.40,495.13 663.45,496.58" fill="none" stroke="#111111" stroke-width="1.0" stroke-linejoin="round" />
<polyline points="415.50,425.53 428.55,422.63 441.60,448.44 454.65,451.63 467.70,453.08 480.75,458.88 493.80,458.30 506.85,462.07 519.90,469.03 532.95,478.31 546.00,487.59 559.05,487.59 572.10,479.47 585.15,488.46 598.20,493.10 611.25,487.88 624.30,493.10 637.35,496.58 650.40,495.13 663.45,496.58" fill="none" stroke="#f4381f" stroke-width="1.0" stroke-linejoin="round" />
<line x1="415.50" y1="480.34" x2="415.50" y2="446.70" stroke="#111111" stroke-width="1.05" />
<line x1="413.30" y1="480.34" x2="417.70" y2="480.34" stroke="#111111" stroke-width="1.05" />
<line x1="413.30" y1="446.70" x2="417.70" y2="446.70" stroke="#111111" stroke-width="1.05" />
<line x1="428.55" y1="474.83" x2="428.55" y2="440.03" stroke="#111111" stroke-width="1.05" />
<line x1="426.35" y1="474.83" x2="430.75" y2="474.83" stroke="#111111" stroke-width="1.05" />
<line x1="426.35" y1="440.03" x2="430.75" y2="440.03" stroke="#111111" stroke-width="1.05" />
<line x1="441.60" y1="493.39" x2="441.60" y2="477.73" stroke="#111111" stroke-width="1.05" />
<line x1="439.40" y1="493.39" x2="443.80" y2="493.39" stroke="#111111" stroke-width="1.05" />
<line x1="439.40" y1="477.73" x2="443.80" y2="477.73" stroke="#111111" stroke-width="1.05" />
<line x1="454.65" y1="487.01" x2="454.65" y2="460.91" stroke="#111111" stroke-width="1.05" />
<line x1="452.45" y1="487.01" x2="456.85" y2="487.01" stroke="#111111" stroke-width="1.05" />
<line x1="452.45" y1="460.91" x2="456.85" y2="460.91" stroke="#111111" stroke-width="1.05" />
<line x1="467.70" y1="485.27" x2="467.70" y2="464.97" stroke="#111111" stroke-width="1.05" />
<line x1="465.50" y1="485.27" x2="469.90" y2="485.27" stroke="#111111" stroke-width="1.05" />
<line x1="465.50" y1="464.97" x2="469.90" y2="464.97" stroke="#111111" stroke-width="1.05" />
<line x1="480.75" y1="486.14" x2="480.75" y2="457.14" stroke="#111111" stroke-width="1.05" />
<line x1="478.55" y1="486.14" x2="482.95" y2="486.14" stroke="#111111" stroke-width="1.05" />
<line x1="478.55" y1="457.14" x2="482.95" y2="457.14" stroke="#111111" stroke-width="1.05" />
<line x1="493.80" y1="492.23" x2="493.80" y2="475.99" stroke="#111111" stroke-width="1.05" />
<line x1="491.60" y1="492.23" x2="496.00" y2="492.23" stroke="#111111" stroke-width="1.05" />
<line x1="491.60" y1="475.99" x2="496.00" y2="475.99" stroke="#111111" stroke-width="1.05" />
<line x1="506.85" y1="492.81" x2="506.85" y2="481.21" stroke="#111111" stroke-width="1.05" />
<line x1="504.65" y1="492.81" x2="509.05" y2="492.81" stroke="#111111" stroke-width="1.05" />
<line x1="504.65" y1="481.21" x2="509.05" y2="481.21" stroke="#111111" stroke-width="1.05" />
<line x1="519.90" y1="493.97" x2="519.90" y2="485.27" stroke="#111111" stroke-width="1.05" />
<line x1="517.70" y1="493.97" x2="522.10" y2="493.97" stroke="#111111" stroke-width="1.05" />
<line x1="517.70" y1="485.27" x2="522.10" y2="485.27" stroke="#111111" stroke-width="1.05" />
<line x1="532.95" y1="493.39" x2="532.95" y2="480.63" stroke="#111111" stroke-width="1.05" />
<line x1="530.75" y1="493.39" x2="535.15" y2="493.39" stroke="#111111" stroke-width="1.05" />
<line x1="530.75" y1="480.63" x2="535.15" y2="480.63" stroke="#111111" stroke-width="1.05" />
<line x1="546.00" y1="494.26" x2="546.00" y2="479.76" stroke="#111111" stroke-width="1.05" />
<line x1="543.80" y1="494.26" x2="548.20" y2="494.26" stroke="#111111" stroke-width="1.05" />
<line x1="543.80" y1="479.76" x2="548.20" y2="479.76" stroke="#111111" stroke-width="1.05" />
<line x1="559.05" y1="493.97" x2="559.05" y2="485.27" stroke="#111111" stroke-width="1.05" />
<line x1="556.85" y1="493.97" x2="561.25" y2="493.97" stroke="#111111" stroke-width="1.05" />
<line x1="556.85" y1="485.27" x2="561.25" y2="485.27" stroke="#111111" stroke-width="1.05" />
<line x1="572.10" y1="500.35" x2="572.10" y2="491.65" stroke="#111111" stroke-width="1.05" />
<line x1="569.90" y1="500.35" x2="574.30" y2="500.35" stroke="#111111" stroke-width="1.05" />
<line x1="569.90" y1="491.65" x2="574.30" y2="491.65" stroke="#111111" stroke-width="1.05" />
<line x1="585.15" y1="497.74" x2="585.15" y2="487.30" stroke="#111111" stroke-width="1.05" />
<line x1="582.95" y1="497.74" x2="587.35" y2="497.74" stroke="#111111" stroke-width="1.05" />
<line x1="582.95" y1="487.30" x2="587.35" y2="487.30" stroke="#111111" stroke-width="1.05" />
<line x1="598.20" y1="498.32" x2="598.20" y2="486.72" stroke="#111111" stroke-width="1.05" />
<line x1="596.00" y1="498.32" x2="600.40" y2="498.32" stroke="#111111" stroke-width="1.05" />
<line x1="596.00" y1="486.72" x2="600.40" y2="486.72" stroke="#111111" stroke-width="1.05" />
<line x1="611.25" y1="500.35" x2="611.25" y2="488.75" stroke="#111111" stroke-width="1.05" />
<line x1="609.05" y1="500.35" x2="613.45" y2="500.35" stroke="#111111" stroke-width="1.05" />
<line x1="609.05" y1="488.75" x2="613.45" y2="488.75" stroke="#111111" stroke-width="1.05" />
<line x1="624.30" y1="496.29" x2="624.30" y2="484.69" stroke="#111111" stroke-width="1.05" />
<line x1="622.10" y1="496.29" x2="626.50" y2="496.29" stroke="#111111" stroke-width="1.05" />
<line x1="622.10" y1="484.69" x2="626.50" y2="484.69" stroke="#111111" stroke-width="1.05" />
<line x1="637.35" y1="500.93" x2="637.35" y2="492.23" stroke="#111111" stroke-width="1.05" />
<line x1="635.15" y1="500.93" x2="639.55" y2="500.93" stroke="#111111" stroke-width="1.05" />
<line x1="635.15" y1="492.23" x2="639.55" y2="492.23" stroke="#111111" stroke-width="1.05" />
<line x1="650.40" y1="499.48" x2="650.40" y2="490.78" stroke="#111111" stroke-width="1.05" />
<line x1="648.20" y1="499.48" x2="652.60" y2="499.48" stroke="#111111" stroke-width="1.05" />
<line x1="648.20" y1="490.78" x2="652.60" y2="490.78" stroke="#111111" stroke-width="1.05" />
<line x1="663.45" y1="500.93" x2="663.45" y2="492.23" stroke="#111111" stroke-width="1.05" />
<line x1="661.25" y1="500.93" x2="665.65" y2="500.93" stroke="#111111" stroke-width="1.05" />
<line x1="661.25" y1="492.23" x2="665.65" y2="492.23" stroke="#111111" stroke-width="1.05" />
<line x1="415.50" y1="440.61" x2="415.50" y2="410.45" stroke="#f4381f" stroke-width="1.05" />
<line x1="413.30" y1="440.61" x2="417.70" y2="440.61" stroke="#f4381f" stroke-width="1.05" />
<line x1="413.30" y1="410.45" x2="417.70" y2="410.45" stroke="#f4381f" stroke-width="1.05" />
<line x1="428.55" y1="438.58" x2="428.55" y2="406.68" stroke="#f4381f" stroke-width="1.05" />
<line x1="426.35" y1="438.58" x2="430.75" y2="438.58" stroke="#f4381f" stroke-width="1.05" />
<line x1="426.35" y1="406.68" x2="430.75" y2="406.68" stroke="#f4381f" stroke-width="1.05" />
<line x1="441.60" y1="462.36" x2="441.60" y2="434.52" stroke="#f4381f" stroke-width="1.05" />
<line x1="439.40" y1="462.36" x2="443.80" y2="462.36" stroke="#f4381f" stroke-width="1.05" />
<line x1="439.40" y1="434.52" x2="443.80" y2="434.52" stroke="#f4381f" stroke-width="1.05" />
<line x1="454.65" y1="465.55" x2="454.65" y2="437.71" stroke="#f4381f" stroke-width="1.05" />
<line x1="452.45" y1="465.55" x2="456.85" y2="465.55" stroke="#f4381f" stroke-width="1.05" />
<line x1="452.45" y1="437.71" x2="456.85" y2="437.71" stroke="#f4381f" stroke-width="1.05" />
<line x1="467.70" y1="464.10" x2="467.70" y2="442.06" stroke="#f4381f" stroke-width="1.05" />
<line x1="465.50" y1="464.10" x2="469.90" y2="464.10" stroke="#f4381f" stroke-width="1.05" />
<line x1="465.50" y1="442.06" x2="469.90" y2="442.06" stroke="#f4381f" stroke-width="1.05" />
<line x1="480.75" y1="469.90" x2="480.75" y2="447.86" stroke="#f4381f" stroke-width="1.05" />
<line x1="478.55" y1="469.90" x2="482.95" y2="469.90" stroke="#f4381f" stroke-width="1.05" />
<line x1="478.55" y1="447.86" x2="482.95" y2="447.86" stroke="#f4381f" stroke-width="1.05" />
<line x1="493.80" y1="471.35" x2="493.80" y2="445.25" stroke="#f4381f" stroke-width="1.05" />
<line x1="491.60" y1="471.35" x2="496.00" y2="471.35" stroke="#f4381f" stroke-width="1.05" />
<line x1="491.60" y1="445.25" x2="496.00" y2="445.25" stroke="#f4381f" stroke-width="1.05" />
<line x1="506.85" y1="471.64" x2="506.85" y2="452.50" stroke="#f4381f" stroke-width="1.05" />
<line x1="504.65" y1="471.64" x2="509.05" y2="471.64" stroke="#f4381f" stroke-width="1.05" />
<line x1="504.65" y1="452.50" x2="509.05" y2="452.50" stroke="#f4381f" stroke-width="1.05" />
<line x1="519.90" y1="478.31" x2="519.90" y2="459.75" stroke="#f4381f" stroke-width="1.05" />
<line x1="517.70" y1="478.31" x2="522.10" y2="478.31" stroke="#f4381f" stroke-width="1.05" />
<line x1="517.70" y1="459.75" x2="522.10" y2="459.75" stroke="#f4381f" stroke-width="1.05" />
<line x1="532.95" y1="484.98" x2="532.95" y2="471.64" stroke="#f4381f" stroke-width="1.05" />
<line x1="530.75" y1="484.98" x2="535.15" y2="484.98" stroke="#f4381f" stroke-width="1.05" />
<line x1="530.75" y1="471.64" x2="535.15" y2="471.64" stroke="#f4381f" stroke-width="1.05" />
<line x1="546.00" y1="493.39" x2="546.00" y2="481.79" stroke="#f4381f" stroke-width="1.05" />
<line x1="543.80" y1="493.39" x2="548.20" y2="493.39" stroke="#f4381f" stroke-width="1.05" />
<line x1="543.80" y1="481.79" x2="548.20" y2="481.79" stroke="#f4381f" stroke-width="1.05" />
<line x1="559.05" y1="493.97" x2="559.05" y2="481.21" stroke="#f4381f" stroke-width="1.05" />
<line x1="556.85" y1="493.97" x2="561.25" y2="493.97" stroke="#f4381f" stroke-width="1.05" />
<line x1="556.85" y1="481.21" x2="561.25" y2="481.21" stroke="#f4381f" stroke-width="1.05" />
<line x1="572.10" y1="488.17" x2="572.10" y2="470.77" stroke="#f4381f" stroke-width="1.05" />
<line x1="569.90" y1="488.17" x2="574.30" y2="488.17" stroke="#f4381f" stroke-width="1.05" />
<line x1="569.90" y1="470.77" x2="574.30" y2="470.77" stroke="#f4381f" stroke-width="1.05" />
<line x1="585.15" y1="494.26" x2="585.15" y2="482.66" stroke="#f4381f" stroke-width="1.05" />
<line x1="582.95" y1="494.26" x2="587.35" y2="494.26" stroke="#f4381f" stroke-width="1.05" />
<line x1="582.95" y1="482.66" x2="587.35" y2="482.66" stroke="#f4381f" stroke-width="1.05" />
<line x1="598.20" y1="497.45" x2="598.20" y2="488.75" stroke="#f4381f" stroke-width="1.05" />
<line x1="596.00" y1="497.45" x2="600.40" y2="497.45" stroke="#f4381f" stroke-width="1.05" />
<line x1="596.00" y1="488.75" x2="600.40" y2="488.75" stroke="#f4381f" stroke-width="1.05" />
<line x1="611.25" y1="495.13" x2="611.25" y2="480.63" stroke="#f4381f" stroke-width="1.05" />
<line x1="609.05" y1="495.13" x2="613.45" y2="495.13" stroke="#f4381f" stroke-width="1.05" />
<line x1="609.05" y1="480.63" x2="613.45" y2="480.63" stroke="#f4381f" stroke-width="1.05" />
<line x1="624.30" y1="500.35" x2="624.30" y2="485.85" stroke="#f4381f" stroke-width="1.05" />
<line x1="622.10" y1="500.35" x2="626.50" y2="500.35" stroke="#f4381f" stroke-width="1.05" />
<line x1="622.10" y1="485.85" x2="626.50" y2="485.85" stroke="#f4381f" stroke-width="1.05" />
<line x1="637.35" y1="500.93" x2="637.35" y2="492.23" stroke="#f4381f" stroke-width="1.05" />
<line x1="635.15" y1="500.93" x2="639.55" y2="500.93" stroke="#f4381f" stroke-width="1.05" />
<line x1="635.15" y1="492.23" x2="639.55" y2="492.23" stroke="#f4381f" stroke-width="1.05" />
<line x1="650.40" y1="499.48" x2="650.40" y2="490.78" stroke="#f4381f" stroke-width="1.05" />
<line x1="648.20" y1="499.48" x2="652.60" y2="499.48" stroke="#f4381f" stroke-width="1.05" />
<line x1="648.20" y1="490.78" x2="652.60" y2="490.78" stroke="#f4381f" stroke-width="1.05" />
<line x1="663.45" y1="500.93" x2="663.45" y2="492.23" stroke="#f4381f" stroke-width="1.05" />
<line x1="661.25" y1="500.93" x2="665.65" y2="500.93" stroke="#f4381f" stroke-width="1.05" />
<line x1="661.25" y1="492.23" x2="665.65" y2="492.23" stroke="#f4381f" stroke-width="1.05" />
<circle cx="415.50" cy="463.52" r="2.0" fill="#111111" />
<circle cx="428.55" cy="457.43" r="2.0" fill="#111111" />
<circle cx="441.60" cy="485.56" r="2.0" fill="#111111" />
<circle cx="454.65" cy="473.96" r="2.0" fill="#111111" />
<circle cx="467.70" cy="475.12" r="2.0" fill="#111111" />
<circle cx="480.75" cy="471.64" r="2.0" fill="#111111" />
<circle cx="493.80" cy="484.11" r="2.0" fill="#111111" />
<circle cx="506.85" cy="487.01" r="2.0" fill="#111111" />
<circle cx="519.90" cy="489.62" r="2.0" fill="#111111" />
<circle cx="532.95" cy="487.01" r="2.0" fill="#111111" />
<circle cx="546.00" cy="487.01" r="2.0" fill="#111111" />
<circle cx="559.05" cy="489.62" r="2.0" fill="#111111" />
<circle cx="572.10" cy="496.00" r="2.0" fill="#111111" />
<circle cx="585.15" cy="492.52" r="2.0" fill="#111111" />
<circle cx="598.20" cy="492.52" r="2.0" fill="#111111" />
<circle cx="611.25" cy="494.55" r="2.0" fill="#111111" />
<circle cx="624.30" cy="490.49" r="2.0" fill="#111111" />
<circle cx="637.35" cy="496.58" r="2.0" fill="#111111" />
<circle cx="650.40" cy="495.13" r="2.0" fill="#111111" />
<circle cx="663.45" cy="496.58" r="2.0" fill="#111111" />
<circle cx="415.50" cy="425.53" r="2.0" fill="#f4381f" />
<circle cx="428.55" cy="422.63" r="2.0" fill="#f4381f" />
<circle cx="441.60" cy="448.44" r="2.0" fill="#f4381f" />
<circle cx="454.65" cy="451.63" r="2.0" fill="#f4381f" />
<circle cx="467.70" cy="453.08" r="2.0" fill="#f4381f" />
<circle cx="480.75" cy="458.88" r="2.0" fill="#f4381f" />
<circle cx="493.80" cy="458.30" r="2.0" fill="#f4381f" />
<circle cx="506.85" cy="462.07" r="2.0" fill="#f4381f" />
<circle cx="519.90" cy="469.03" r="2.0" fill="#f4381f" />
<circle cx="532.95" cy="478.31" r="2.0" fill="#f4381f" />
<circle cx="546.00" cy="487.59" r="2.0" fill="#f4381f" />
<circle cx="559.05" cy="487.59" r="2.0" fill="#f4381f" />
<circle cx="572.10" cy="479.47" r="2.0" fill="#f4381f" />
<circle cx="585.15" cy="488.46" r="2.0" fill="#f4381f" />
<circle cx="598.20" cy="493.10" r="2.0" fill="#f4381f" />
<circle cx="611.25" cy="487.88" r="2.0" fill="#f4381f" />
<circle cx="624.30" cy="493.10" r="2.0" fill="#f4381f" />
<circle cx="637.35" cy="496.58" r="2.0" fill="#f4381f" />
<circle cx="650.40" cy="495.13" r="2.0" fill="#f4381f" />
<circle cx="663.45" cy="496.58" r="2.0" fill="#f4381f" />
<line x1="406.50" y1="394.10" x2="406.50" y2="511.20" stroke="#111111" stroke-width="1.4" />
<line x1="404.20" y1="510.50" x2="406.50" y2="510.50" stroke="#111111" stroke-width="1" />
<text x="403.30" y="512.90" font-size="6.9" text-anchor="end" fill="#111111" >0</text>
<line x1="404.20" y1="481.50" x2="406.50" y2="481.50" stroke="#111111" stroke-width="1" />
<text x="403.30" y="483.90" font-size="6.9" text-anchor="end" fill="#111111" >1</text>
<line x1="404.20" y1="452.50" x2="406.50" y2="452.50" stroke="#111111" stroke-width="1" />
<text x="403.30" y="454.90" font-size="6.9" text-anchor="end" fill="#111111" >2</text>
<line x1="404.20" y1="423.50" x2="406.50" y2="423.50" stroke="#111111" stroke-width="1" />
<text x="403.30" y="425.90" font-size="6.9" text-anchor="end" fill="#111111" >3</text>
<line x1="404.20" y1="394.50" x2="406.50" y2="394.50" stroke="#111111" stroke-width="1" />
<text x="403.30" y="396.90" font-size="6.9" text-anchor="end" fill="#111111" >4</text>
<line x1="405.80" y1="510.50" x2="673.00" y2="510.50" stroke="#111111" stroke-width="1.5" />
<line x1="415.50" y1="510.50" x2="415.50" y2="512.90" stroke="#111111" stroke-width="1" />
<line x1="428.55" y1="510.50" x2="428.55" y2="512.90" stroke="#111111" stroke-width="1" />
<line x1="441.60" y1="510.50" x2="441.60" y2="512.90" stroke="#111111" stroke-width="1" />
<line x1="454.65" y1="510.50" x2="454.65" y2="512.90" stroke="#111111" stroke-width="1" />
<line x1="467.70" y1="510.50" x2="467.70" y2="512.90" stroke="#111111" stroke-width="1" />
<line x1="480.75" y1="510.50" x2="480.75" y2="512.90" stroke="#111111" stroke-width="1" />
<line x1="493.80" y1="510.50" x2="493.80" y2="512.90" stroke="#111111" stroke-width="1" />
<line x1="506.85" y1="510.50" x2="506.85" y2="512.90" stroke="#111111" stroke-width="1" />
<line x1="519.90" y1="510.50" x2="519.90" y2="512.90" stroke="#111111" stroke-width="1" />
<line x1="532.95" y1="510.50" x2="532.95" y2="512.90" stroke="#111111" stroke-width="1" />
<line x1="546.00" y1="510.50" x2="546.00" y2="512.90" stroke="#111111" stroke-width="1" />
<line x1="559.05" y1="510.50" x2="559.05" y2="512.90" stroke="#111111" stroke-width="1" />
<line x1="572.10" y1="510.50" x2="572.10" y2="512.90" stroke="#111111" stroke-width="1" />
<line x1="585.15" y1="510.50" x2="585.15" y2="512.90" stroke="#111111" stroke-width="1" />
<line x1="598.20" y1="510.50" x2="598.20" y2="512.90" stroke="#111111" stroke-width="1" />
<line x1="611.25" y1="510.50" x2="611.25" y2="512.90" stroke="#111111" stroke-width="1" />
<line x1="624.30" y1="510.50" x2="624.30" y2="512.90" stroke="#111111" stroke-width="1" />
<line x1="637.35" y1="510.50" x2="637.35" y2="512.90" stroke="#111111" stroke-width="1" />
<line x1="650.40" y1="510.50" x2="650.40" y2="512.90" stroke="#111111" stroke-width="1" />
<line x1="663.45" y1="510.50" x2="663.45" y2="512.90" stroke="#111111" stroke-width="1" />
<text x="415.50" y="520.30" font-size="7" text-anchor="middle" fill="#111111" >2</text>
<text x="428.55" y="520.30" font-size="7" text-anchor="middle" fill="#111111" >3</text>
<text x="441.60" y="520.30" font-size="7" text-anchor="middle" fill="#111111" >4</text>
<text x="454.65" y="520.30" font-size="7" text-anchor="middle" fill="#111111" >5</text>
<text x="467.70" y="520.30" font-size="7" text-anchor="middle" fill="#111111" >6</text>
<text x="480.75" y="520.30" font-size="7" text-anchor="middle" fill="#111111" >7</text>
<text x="493.80" y="520.30" font-size="7" text-anchor="middle" fill="#111111" >8</text>
<text x="506.85" y="520.30" font-size="7" text-anchor="middle" fill="#111111" >9</text>
<text x="519.90" y="520.30" font-size="7" text-anchor="middle" fill="#111111" >10</text>
<text x="532.95" y="520.30" font-size="7" text-anchor="middle" fill="#111111" >11</text>
<text x="546.00" y="520.30" font-size="7" text-anchor="middle" fill="#111111" >12</text>
<text x="559.05" y="520.30" font-size="7" text-anchor="middle" fill="#111111" >13</text>
<text x="572.10" y="520.30" font-size="7" text-anchor="middle" fill="#111111" >14</text>
<text x="585.15" y="520.30" font-size="7" text-anchor="middle" fill="#111111" >15</text>
<text x="598.20" y="520.30" font-size="7" text-anchor="middle" fill="#111111" >16</text>
<text x="611.25" y="520.30" font-size="7" text-anchor="middle" fill="#111111" >17</text>
<text x="624.30" y="520.30" font-size="7" text-anchor="middle" fill="#111111" >18</text>
<text x="637.35" y="520.30" font-size="7" text-anchor="middle" fill="#111111" >19</text>
<text x="650.40" y="520.30" font-size="7" text-anchor="middle" fill="#111111" >20</text>
<text x="663.45" y="520.30" font-size="7" text-anchor="middle" fill="#111111" >21</text>
<text x="546.50" y="536.50" font-size="9.3" text-anchor="middle" fill="#111111" textLength="104" lengthAdjust="spacing" >Paired Pulse Interval (ms)</text>
<text x="543.00" y="377.50" font-size="11.4" text-anchor="middle" fill="#111111" font-weight="bold" textLength="116.7" lengthAdjust="spacing" >Synaptic Depression</text>
<text x="520.80" y="387.00" font-size="6.9" text-anchor="start" fill="#111111" font-weight="bold" textLength="37" lengthAdjust="spacing" >Interaction:</text>
<path d="M562.40,382.70L562.40,386.70M560.67,383.70L564.13,385.70M560.67,385.70L564.13,383.70" stroke="#555" stroke-width="0.85" fill="none"/>
<path d="M567.00,382.70L567.00,386.70M565.27,383.70L568.73,385.70M565.27,385.70L568.73,383.70" stroke="#555" stroke-width="0.85" fill="none"/>
<path d="M571.60,382.70L571.60,386.70M569.87,383.70L573.33,385.70M569.87,385.70L573.33,383.70" stroke="#555" stroke-width="0.85" fill="none"/>
<line x1="622.50" y1="410.00" x2="633.30" y2="410.00" stroke="#111111" stroke-width="1.1" />
<circle cx="627.90" cy="410.00" r="2.0" fill="#111111" />
<text x="635.70" y="411.90" font-size="6.8" text-anchor="start" fill="#111111" >Sham</text>
<line x1="622.50" y1="421.00" x2="633.30" y2="421.00" stroke="#f4381f" stroke-width="1.1" />
<circle cx="627.90" cy="421.00" r="2.0" fill="#f4381f" />
<text x="635.70" y="422.90" font-size="6.8" text-anchor="start" fill="#111111" >SCI</text>
<text x="390.00" y="450.00" font-size="9.1" text-anchor="middle" fill="#111111" textLength="113" lengthAdjust="spacing" transform="rotate(-90 390.00 450.00)" ><tspan font-size="1.2em">√</tspan>Peak to peak amp. (mV<tspan font-size="5" dy="-3.2">1/2</tspan><tspan dy="3.2">)</tspan></text>
</svg></body></html>
